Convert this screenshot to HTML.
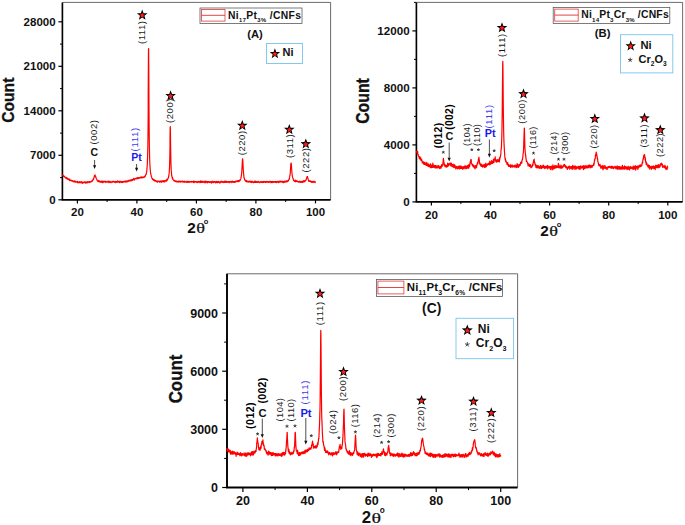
<!DOCTYPE html>
<html><head><meta charset="utf-8"><title>XRD</title>
<style>
html,body{margin:0;padding:0;background:#fff;}
svg{display:block;font-family:"Liberation Sans",sans-serif;}
</style></head><body>
<svg width="685" height="525" viewBox="0 0 685 525">
<rect width="685" height="525" fill="#fff"/>
<path d="M62.4 2.4 H330.6 V199.8" fill="none" stroke="#5a5a5a" stroke-width="0.9"/>
<path d="M62.4 2.4 V199.8 H330.6" fill="none" stroke="#000" stroke-width="1.65"/>
<line x1="77.4" y1="199.8" x2="77.4" y2="203.4" stroke="#000" stroke-width="1.2"/>
<text x="77.4" y="216.3" font-size="11.5" font-weight="bold" fill="#111" text-anchor="middle" >20</text>
<line x1="136.9" y1="199.8" x2="136.9" y2="203.4" stroke="#000" stroke-width="1.2"/>
<text x="136.9" y="216.3" font-size="11.5" font-weight="bold" fill="#111" text-anchor="middle" >40</text>
<line x1="196.4" y1="199.8" x2="196.4" y2="203.4" stroke="#000" stroke-width="1.2"/>
<text x="196.4" y="216.3" font-size="11.5" font-weight="bold" fill="#111" text-anchor="middle" >60</text>
<line x1="255.9" y1="199.8" x2="255.9" y2="203.4" stroke="#000" stroke-width="1.2"/>
<text x="255.9" y="216.3" font-size="11.5" font-weight="bold" fill="#111" text-anchor="middle" >80</text>
<line x1="315.5" y1="199.8" x2="315.5" y2="203.4" stroke="#000" stroke-width="1.2"/>
<text x="315.5" y="216.3" font-size="11.5" font-weight="bold" fill="#111" text-anchor="middle" >100</text>
<line x1="107.1" y1="199.8" x2="107.1" y2="202.0" stroke="#000" stroke-width="1.0"/>
<line x1="166.7" y1="199.8" x2="166.7" y2="202.0" stroke="#000" stroke-width="1.0"/>
<line x1="226.2" y1="199.8" x2="226.2" y2="202.0" stroke="#000" stroke-width="1.0"/>
<line x1="285.7" y1="199.8" x2="285.7" y2="202.0" stroke="#000" stroke-width="1.0"/>
<line x1="58.4" y1="199.8" x2="62.4" y2="199.8" stroke="#000" stroke-width="1.2"/>
<text x="55.6" y="203.9" font-size="11.5" font-weight="bold" fill="#111" text-anchor="end" >0</text>
<line x1="58.4" y1="155.3" x2="62.4" y2="155.3" stroke="#000" stroke-width="1.2"/>
<text x="55.6" y="159.4" font-size="11.5" font-weight="bold" fill="#111" text-anchor="end" >7000</text>
<line x1="58.4" y1="110.8" x2="62.4" y2="110.8" stroke="#000" stroke-width="1.2"/>
<text x="55.6" y="114.9" font-size="11.5" font-weight="bold" fill="#111" text-anchor="end" >14000</text>
<line x1="58.4" y1="66.3" x2="62.4" y2="66.3" stroke="#000" stroke-width="1.2"/>
<text x="55.6" y="70.4" font-size="11.5" font-weight="bold" fill="#111" text-anchor="end" >21000</text>
<line x1="58.4" y1="21.8" x2="62.4" y2="21.8" stroke="#000" stroke-width="1.2"/>
<text x="55.6" y="25.9" font-size="11.5" font-weight="bold" fill="#111" text-anchor="end" >28000</text>
<line x1="60.0" y1="177.6" x2="62.4" y2="177.6" stroke="#000" stroke-width="1.0"/>
<line x1="60.0" y1="133.1" x2="62.4" y2="133.1" stroke="#000" stroke-width="1.0"/>
<line x1="60.0" y1="88.6" x2="62.4" y2="88.6" stroke="#000" stroke-width="1.0"/>
<line x1="60.0" y1="44.1" x2="62.4" y2="44.1" stroke="#000" stroke-width="1.0"/>
<polyline fill="none" stroke="#ff0000" stroke-width="1.2" stroke-linejoin="round" points="62.5,174.3 62.6,174.9 62.7,175.3 62.8,175.4 62.9,175.3 63.0,175.7 63.1,175.2 63.2,175.5 63.3,175.6 63.4,175.6 63.5,175.6 63.6,176.4 63.7,176.4 63.8,176.1 63.9,176.0 64.0,176.5 64.1,176.6 64.2,176.7 64.3,176.6 64.3,176.6 64.4,176.9 64.5,176.5 64.6,176.4 64.7,176.6 64.8,176.8 64.9,177.2 65.0,177.4 65.1,177.6 65.2,177.5 65.3,177.4 65.4,177.7 65.5,177.8 65.6,178.0 65.7,178.1 65.8,178.1 65.9,178.0 66.0,178.2 66.1,177.9 66.2,177.4 66.3,177.7 66.4,178.3 66.5,178.6 66.6,178.5 66.7,177.9 66.8,178.3 66.9,178.7 67.0,178.3 67.1,177.9 67.2,178.3 67.3,178.5 67.4,178.7 67.5,179.0 67.6,179.3 67.7,179.2 67.8,179.0 67.9,178.8 68.0,178.7 68.0,178.8 68.1,178.9 68.2,179.1 68.3,179.3 68.4,179.0 68.5,179.2 68.6,179.5 68.7,179.4 68.8,179.4 68.9,179.1 69.0,178.8 69.1,179.0 69.2,180.1 69.3,180.4 69.4,180.1 69.5,179.8 69.6,179.6 69.7,180.0 69.8,180.6 69.9,180.3 70.0,179.8 70.1,179.9 70.2,179.9 70.3,180.2 70.4,180.3 70.5,180.2 70.6,180.2 70.7,180.2 70.8,180.4 70.9,180.6 71.0,180.4 71.1,180.3 71.2,180.1 71.3,180.1 71.4,180.5 71.5,180.8 71.6,180.9 71.6,180.6 71.7,180.7 71.8,180.9 71.9,180.9 72.0,181.0 72.1,180.8 72.2,180.8 72.3,180.6 72.4,180.7 72.5,180.9 72.6,181.3 72.7,181.0 72.8,180.9 72.9,181.4 73.0,181.3 73.1,181.3 73.2,181.6 73.3,181.2 73.4,181.1 73.5,181.4 73.6,181.4 73.7,181.7 73.8,181.7 73.9,181.8 74.0,181.2 74.1,181.2 74.2,181.5 74.3,181.6 74.4,181.0 74.5,181.0 74.6,181.8 74.7,181.2 74.8,180.9 74.9,181.5 75.0,181.9 75.1,181.6 75.2,181.7 75.3,182.0 75.3,182.1 75.4,181.6 75.5,181.5 75.6,181.8 75.7,181.8 75.8,182.0 75.9,181.7 76.0,181.8 76.1,181.9 76.2,181.9 76.3,181.6 76.4,181.6 76.5,181.7 76.6,181.9 76.7,181.9 76.8,181.8 76.9,181.8 77.0,181.8 77.1,182.3 77.2,182.7 77.3,181.8 77.4,181.3 77.5,181.8 77.6,182.1 77.7,182.2 77.8,182.2 77.9,182.3 78.0,182.6 78.1,182.6 78.2,182.5 78.3,182.3 78.4,182.2 78.5,182.1 78.6,182.1 78.7,182.0 78.8,181.9 78.9,181.8 78.9,182.7 79.0,182.6 79.1,181.8 79.2,181.5 79.3,182.1 79.4,182.4 79.5,182.3 79.6,182.0 79.7,182.2 79.8,182.2 79.9,182.5 80.0,182.8 80.1,182.4 80.2,182.1 80.3,182.0 80.4,182.4 80.5,182.6 80.6,182.3 80.7,182.3 80.8,182.3 80.9,182.3 81.0,182.1 81.1,182.0 81.2,181.7 81.3,181.8 81.4,182.3 81.5,182.8 81.6,182.4 81.7,182.2 81.8,182.1 81.9,182.1 82.0,182.4 82.1,182.3 82.2,182.4 82.3,182.1 82.4,182.9 82.5,183.3 82.5,183.3 82.6,183.1 82.7,182.7 82.8,182.0 82.9,182.5 83.0,182.8 83.1,182.4 83.2,182.7 83.3,182.8 83.4,182.3 83.5,182.3 83.6,182.4 83.7,182.1 83.8,182.1 83.9,181.9 84.0,182.0 84.1,181.9 84.2,182.4 84.3,182.6 84.4,181.9 84.5,182.4 84.6,182.7 84.7,182.7 84.8,182.6 84.9,182.4 85.0,182.3 85.1,182.0 85.2,181.8 85.3,182.4 85.4,182.9 85.5,183.0 85.6,182.9 85.7,182.9 85.8,182.4 85.9,182.5 86.0,182.5 86.1,182.6 86.2,182.9 86.2,182.7 86.3,182.2 86.4,182.2 86.5,182.2 86.6,182.0 86.7,182.6 86.8,182.6 86.9,182.7 87.0,183.0 87.1,182.0 87.2,182.1 87.3,182.4 87.4,181.7 87.5,181.8 87.6,182.1 87.7,182.4 87.8,182.4 87.9,182.6 88.0,182.2 88.1,182.2 88.2,182.1 88.3,181.8 88.4,181.9 88.5,182.0 88.6,182.1 88.7,182.2 88.8,181.8 88.9,181.5 89.0,181.6 89.1,181.8 89.2,182.3 89.3,182.6 89.4,182.4 89.5,181.8 89.6,181.8 89.7,181.7 89.8,182.1 89.8,182.1 89.9,181.8 90.0,181.6 90.1,181.7 90.2,181.8 90.3,181.8 90.4,181.9 90.5,182.1 90.6,181.9 90.7,181.8 90.8,181.7 90.9,181.6 91.0,181.8 91.1,181.7 91.2,181.6 91.3,181.3 91.4,181.3 91.5,181.5 91.6,181.1 91.7,180.8 91.8,181.6 91.9,181.7 92.0,181.5 92.1,181.0 92.2,180.5 92.3,180.8 92.4,180.9 92.5,180.7 92.6,180.6 92.7,180.2 92.8,180.0 92.9,179.9 93.0,179.8 93.1,179.0 93.2,179.2 93.3,179.3 93.4,179.4 93.5,179.5 93.5,179.3 93.6,179.0 93.7,178.7 93.8,178.3 93.9,178.0 94.0,177.4 94.1,177.0 94.2,176.9 94.3,176.3 94.4,176.1 94.5,175.6 94.6,175.3 94.7,175.2 94.8,175.5 94.9,175.2 95.0,174.8 95.1,175.4 95.2,176.2 95.3,176.5 95.4,176.9 95.5,176.9 95.6,176.5 95.7,176.3 95.8,176.9 95.9,177.2 96.0,177.6 96.1,177.9 96.2,178.2 96.3,178.4 96.4,178.7 96.5,179.1 96.6,178.9 96.7,179.0 96.8,179.4 96.9,179.5 97.0,180.0 97.1,180.2 97.1,180.1 97.2,180.3 97.3,180.6 97.4,180.8 97.5,180.7 97.6,180.6 97.7,181.2 97.8,180.9 97.9,180.8 98.0,180.7 98.1,181.0 98.2,181.7 98.3,181.2 98.4,180.9 98.5,181.2 98.6,181.2 98.7,181.1 98.8,181.1 98.9,180.7 99.0,180.7 99.1,180.7 99.2,181.6 99.3,181.9 99.4,181.3 99.5,181.1 99.6,181.5 99.7,182.0 99.8,181.7 99.9,181.4 100.0,181.5 100.1,181.6 100.2,181.7 100.3,181.9 100.4,182.0 100.5,181.9 100.6,181.3 100.7,181.5 100.8,181.7 100.8,181.8 100.9,181.7 101.0,182.1 101.1,181.6 101.2,181.4 101.3,181.2 101.4,181.9 101.5,181.8 101.6,181.5 101.7,181.4 101.8,181.7 101.9,182.0 102.0,182.5 102.1,182.2 102.2,181.6 102.3,181.4 102.4,181.5 102.5,181.0 102.6,181.0 102.7,181.9 102.8,182.7 102.9,182.7 103.0,182.1 103.1,181.5 103.2,181.8 103.3,182.4 103.4,181.9 103.5,181.4 103.6,181.8 103.7,181.9 103.8,181.3 103.9,181.6 104.0,181.9 104.1,181.8 104.2,181.8 104.3,181.8 104.4,181.4 104.4,181.3 104.5,181.5 104.6,181.7 104.7,181.5 104.8,181.7 104.9,181.6 105.0,181.4 105.1,181.3 105.2,181.2 105.3,181.7 105.4,182.4 105.5,182.3 105.6,181.6 105.7,181.8 105.8,181.9 105.9,182.0 106.0,181.7 106.1,181.7 106.2,181.5 106.3,181.8 106.4,181.5 106.5,181.6 106.6,181.9 106.7,181.7 106.8,182.1 106.9,182.2 107.0,181.8 107.1,182.1 107.2,182.2 107.3,182.2 107.4,182.1 107.5,181.6 107.6,181.6 107.7,181.9 107.8,181.9 107.9,181.6 108.0,181.2 108.1,181.5 108.1,181.9 108.2,181.7 108.3,181.9 108.4,181.8 108.5,181.4 108.6,181.9 108.7,182.3 108.8,182.7 108.9,182.5 109.0,182.0 109.1,182.0 109.2,181.9 109.3,182.3 109.4,182.2 109.5,181.6 109.6,181.3 109.7,181.4 109.8,181.3 109.9,181.2 110.0,181.5 110.1,182.1 110.2,182.0 110.3,181.8 110.4,181.9 110.5,182.0 110.6,182.4 110.7,182.3 110.8,182.1 110.9,182.7 111.0,182.5 111.1,182.2 111.2,182.4 111.3,182.2 111.4,182.2 111.5,182.1 111.6,182.0 111.7,181.9 111.7,182.1 111.8,182.0 111.9,182.0 112.0,181.6 112.1,181.3 112.2,181.7 112.3,182.0 112.4,182.2 112.5,181.9 112.6,182.2 112.7,182.2 112.8,181.8 112.9,181.7 113.0,181.4 113.1,181.4 113.2,181.9 113.3,181.8 113.4,181.3 113.5,181.4 113.6,181.5 113.7,181.5 113.8,181.9 113.9,181.6 114.0,181.3 114.1,181.4 114.2,182.0 114.3,182.0 114.4,181.9 114.5,182.0 114.6,182.0 114.7,181.8 114.8,182.1 114.9,182.5 115.0,182.0 115.1,182.1 115.2,182.4 115.3,182.4 115.4,182.0 115.4,182.7 115.5,182.7 115.6,182.1 115.7,181.4 115.8,181.5 115.9,182.1 116.0,182.3 116.1,182.3 116.2,181.9 116.3,182.3 116.4,182.0 116.5,181.6 116.6,181.7 116.7,181.6 116.8,182.0 116.9,181.8 117.0,181.6 117.1,181.7 117.2,181.4 117.3,181.8 117.4,181.9 117.5,180.8 117.6,181.3 117.7,182.0 117.8,182.3 117.9,182.1 118.0,182.0 118.1,181.7 118.2,181.5 118.3,181.3 118.4,181.6 118.5,181.7 118.6,181.7 118.7,181.9 118.8,181.9 118.9,181.5 119.0,181.6 119.0,182.1 119.1,182.3 119.2,181.9 119.3,181.5 119.4,181.6 119.5,181.4 119.6,181.9 119.7,182.2 119.8,182.7 119.9,182.4 120.0,182.0 120.1,181.6 120.2,181.3 120.3,181.5 120.4,181.3 120.5,181.4 120.6,181.5 120.7,181.7 120.8,181.6 120.9,182.0 121.0,181.9 121.1,182.1 121.2,182.3 121.3,182.4 121.4,182.1 121.5,181.8 121.6,182.0 121.7,182.1 121.8,181.5 121.9,181.4 122.0,181.4 122.1,181.5 122.2,182.1 122.3,182.6 122.4,182.1 122.5,181.6 122.6,181.9 122.6,181.7 122.7,181.8 122.8,181.9 122.9,182.1 123.0,181.6 123.1,181.5 123.2,181.4 123.3,181.5 123.4,181.5 123.5,181.6 123.6,181.7 123.7,182.2 123.8,182.1 123.9,181.6 124.0,181.6 124.1,181.8 124.2,181.7 124.3,181.6 124.4,181.7 124.5,181.6 124.6,181.9 124.7,181.7 124.8,181.2 124.9,181.3 125.0,181.7 125.1,181.5 125.2,181.7 125.3,181.6 125.4,182.1 125.5,182.1 125.6,181.8 125.7,181.4 125.8,181.0 125.9,180.9 126.0,180.7 126.1,180.9 126.2,181.4 126.3,181.4 126.3,181.1 126.4,181.3 126.5,181.5 126.6,181.8 126.7,181.8 126.8,182.2 126.9,181.8 127.0,181.5 127.1,181.2 127.2,181.3 127.3,181.2 127.4,180.9 127.5,181.3 127.6,181.4 127.7,181.7 127.8,181.3 127.9,180.9 128.0,180.9 128.1,181.2 128.2,181.0 128.3,180.9 128.4,180.9 128.5,180.9 128.6,180.7 128.7,180.9 128.8,181.3 128.9,181.1 129.0,180.0 129.1,180.1 129.2,181.0 129.3,180.7 129.4,180.4 129.5,180.4 129.6,180.7 129.7,181.0 129.8,180.8 129.9,180.8 129.9,180.6 130.0,180.6 130.1,180.5 130.2,180.1 130.3,180.1 130.4,180.7 130.5,180.8 130.6,180.5 130.7,180.1 130.8,180.0 130.9,179.9 131.0,180.2 131.1,180.4 131.2,180.5 131.3,179.9 131.4,180.2 131.5,180.6 131.6,180.6 131.7,180.8 131.8,180.2 131.9,179.9 132.0,179.7 132.1,179.4 132.2,179.7 132.3,179.6 132.4,179.6 132.5,180.0 132.6,180.3 132.7,179.7 132.8,179.7 132.9,179.8 133.0,179.9 133.1,179.6 133.2,179.4 133.3,179.5 133.4,179.4 133.5,179.0 133.6,178.9 133.6,178.6 133.7,178.3 133.8,179.1 133.9,179.5 134.0,179.5 134.1,179.2 134.2,179.6 134.3,180.1 134.4,179.7 134.5,179.0 134.6,178.8 134.7,179.4 134.8,179.3 134.9,179.1 135.0,179.0 135.1,178.7 135.2,178.7 135.3,178.7 135.4,178.7 135.5,178.3 135.6,178.3 135.7,178.3 135.8,178.5 135.9,178.5 136.0,178.8 136.1,178.9 136.2,178.8 136.3,178.5 136.4,178.3 136.5,178.0 136.6,178.6 136.7,178.6 136.8,177.8 136.9,178.1 137.0,178.7 137.1,178.2 137.2,178.3 137.2,178.8 137.3,178.5 137.4,178.1 137.5,177.8 137.6,177.7 137.7,177.8 137.8,177.7 137.9,178.0 138.0,178.3 138.1,178.3 138.2,178.1 138.3,178.4 138.4,178.0 138.5,178.2 138.6,178.0 138.7,177.6 138.8,177.6 138.9,178.4 139.0,178.2 139.1,177.9 139.2,177.8 139.3,177.8 139.4,178.2 139.5,177.8 139.6,177.5 139.7,177.5 139.8,177.5 139.9,177.8 140.0,177.5 140.1,177.7 140.2,177.5 140.3,177.6 140.4,177.3 140.5,177.5 140.6,178.0 140.7,177.8 140.8,177.7 140.9,177.8 140.9,177.6 141.0,177.1 141.1,177.1 141.2,177.1 141.3,177.7 141.4,177.9 141.5,177.7 141.6,177.4 141.7,176.8 141.8,177.1 141.9,177.2 142.0,177.5 142.1,177.6 142.2,177.5 142.3,177.3 142.4,177.2 142.5,177.5 142.6,177.8 142.7,177.8 142.8,177.5 142.9,177.2 143.0,177.2 143.1,177.4 143.2,177.5 143.3,177.3 143.4,177.1 143.5,177.2 143.6,177.3 143.7,177.2 143.8,177.0 143.9,177.2 144.0,177.1 144.1,176.9 144.2,176.6 144.3,176.4 144.4,176.5 144.5,176.8 144.5,177.2 144.6,176.5 144.7,176.0 144.8,176.7 144.9,176.9 145.0,176.5 145.1,175.9 145.2,175.9 145.3,176.1 145.4,175.8 145.5,175.3 145.6,174.9 145.7,174.4 145.8,174.5 145.9,174.6 146.0,174.4 146.1,174.4 146.2,174.2 146.3,173.5 146.4,173.0 146.5,172.9 146.6,172.3 146.7,171.4 146.8,170.5 146.9,169.6 147.0,168.4 147.1,167.2 147.2,165.8 147.3,164.5 147.4,161.8 147.5,159.2 147.6,156.5 147.7,152.8 147.8,148.2 147.9,142.5 148.0,134.7 148.1,124.7 148.2,112.1 148.2,96.6 148.3,79.0 148.4,61.8 148.5,50.0 148.6,48.6 148.7,58.2 148.8,74.4 148.9,92.8 149.0,109.4 149.1,122.5 149.2,133.3 149.3,142.1 149.4,147.9 149.5,152.9 149.6,156.7 149.7,160.2 149.8,162.9 149.9,164.8 150.0,166.9 150.1,168.2 150.2,169.2 150.3,170.1 150.4,171.1 150.5,172.2 150.6,173.0 150.7,173.2 150.8,174.0 150.9,174.3 151.0,175.0 151.1,175.2 151.2,175.7 151.3,176.5 151.4,176.6 151.5,176.6 151.6,177.0 151.7,177.4 151.8,177.7 151.8,178.1 151.9,178.4 152.0,178.2 152.1,178.4 152.2,178.2 152.3,178.5 152.4,179.1 152.5,179.2 152.6,179.3 152.7,179.5 152.8,179.3 152.9,179.4 153.0,179.0 153.1,179.3 153.2,179.9 153.3,179.9 153.4,180.1 153.5,180.3 153.6,179.8 153.7,179.6 153.8,179.8 153.9,180.1 154.0,180.0 154.1,180.2 154.2,179.9 154.3,179.7 154.4,180.4 154.5,181.0 154.6,180.7 154.7,180.3 154.8,180.3 154.9,180.9 155.0,180.9 155.1,180.6 155.2,180.5 155.3,180.6 155.4,181.1 155.4,181.0 155.5,180.6 155.6,180.6 155.7,180.6 155.8,180.6 155.9,180.8 156.0,180.9 156.1,181.2 156.2,181.6 156.3,181.6 156.4,181.2 156.5,181.2 156.6,181.3 156.7,181.2 156.8,181.4 156.9,181.3 157.0,181.3 157.1,181.7 157.2,181.9 157.3,181.0 157.4,181.3 157.5,182.1 157.6,181.7 157.7,181.2 157.8,181.3 157.9,181.3 158.0,181.5 158.1,181.4 158.2,181.4 158.3,181.4 158.4,181.4 158.5,181.2 158.6,181.1 158.7,181.5 158.8,181.6 158.9,181.4 159.0,181.4 159.1,181.2 159.1,181.0 159.2,181.0 159.3,181.6 159.4,182.1 159.5,181.7 159.6,181.4 159.7,181.5 159.8,181.8 159.9,182.2 160.0,181.6 160.1,181.7 160.2,182.0 160.3,182.0 160.4,181.8 160.5,181.3 160.6,181.1 160.7,180.9 160.8,181.3 160.9,182.0 161.0,181.9 161.1,181.1 161.2,180.9 161.3,181.3 161.4,181.5 161.5,182.1 161.6,182.3 161.7,182.1 161.8,181.7 161.9,181.7 162.0,181.6 162.1,181.5 162.2,181.1 162.3,180.9 162.4,181.1 162.5,180.9 162.6,181.5 162.7,181.6 162.7,181.4 162.8,181.3 162.9,181.1 163.0,181.3 163.1,181.0 163.2,180.9 163.3,180.6 163.4,181.2 163.5,181.4 163.6,181.5 163.7,181.9 163.8,181.3 163.9,181.1 164.0,181.4 164.1,181.9 164.2,181.8 164.3,181.1 164.4,180.6 164.5,180.7 164.6,181.4 164.7,181.6 164.8,181.5 164.9,181.8 165.0,181.4 165.1,180.7 165.2,180.4 165.3,180.6 165.4,180.4 165.5,180.6 165.6,180.8 165.7,180.9 165.8,180.8 165.9,180.9 166.0,180.9 166.1,180.9 166.2,180.7 166.3,180.8 166.4,181.1 166.4,180.8 166.5,181.0 166.6,181.1 166.7,180.2 166.8,179.5 166.9,179.1 167.0,179.5 167.1,180.0 167.2,179.5 167.3,179.5 167.4,180.1 167.5,179.4 167.6,179.1 167.7,179.1 167.8,179.0 167.9,178.7 168.0,178.2 168.1,178.4 168.2,178.3 168.3,177.9 168.4,177.7 168.5,177.6 168.6,176.6 168.7,176.1 168.8,175.6 168.9,175.1 169.0,174.5 169.1,173.7 169.2,172.5 169.3,171.0 169.4,169.2 169.5,167.4 169.6,164.9 169.7,161.5 169.8,158.1 169.9,153.1 170.0,146.2 170.0,139.0 170.1,132.2 170.2,127.2 170.3,126.6 170.4,130.5 170.5,137.6 170.6,144.7 170.7,151.5 170.8,157.1 170.9,161.3 171.0,164.8 171.1,167.9 171.2,169.5 171.3,170.9 171.4,171.9 171.5,173.3 171.6,174.3 171.7,175.6 171.8,175.7 171.9,176.1 172.0,176.8 172.1,177.3 172.2,177.6 172.3,177.8 172.4,178.4 172.5,179.0 172.6,178.7 172.7,178.2 172.8,178.8 172.9,179.2 173.0,179.5 173.1,179.5 173.2,179.6 173.3,179.8 173.4,179.8 173.5,180.2 173.6,180.2 173.7,180.1 173.7,180.5 173.8,180.7 173.9,180.5 174.0,180.8 174.1,180.9 174.2,180.9 174.3,180.9 174.4,180.9 174.5,180.9 174.6,180.5 174.7,180.3 174.8,180.8 174.9,180.9 175.0,181.0 175.1,180.9 175.2,180.7 175.3,181.1 175.4,181.5 175.5,181.5 175.6,181.5 175.7,181.2 175.8,181.1 175.9,181.7 176.0,181.8 176.1,181.9 176.2,181.8 176.3,181.1 176.4,181.0 176.5,181.0 176.6,181.5 176.7,181.2 176.8,181.5 176.9,181.7 177.0,181.9 177.1,182.0 177.2,182.0 177.3,181.7 177.3,181.9 177.4,181.7 177.5,181.5 177.6,181.3 177.7,181.4 177.8,181.4 177.9,181.4 178.0,181.5 178.1,181.6 178.2,181.9 178.3,181.7 178.4,181.1 178.5,181.5 178.6,181.7 178.7,181.3 178.8,181.6 178.9,182.0 179.0,182.1 179.1,181.7 179.2,182.0 179.3,181.9 179.4,181.5 179.5,181.6 179.6,181.7 179.7,181.7 179.8,181.1 179.9,181.0 180.0,181.6 180.1,181.4 180.2,181.0 180.3,181.3 180.4,181.9 180.5,182.0 180.6,182.1 180.7,182.2 180.8,182.0 180.9,181.8 181.0,181.8 181.0,181.5 181.1,181.7 181.2,181.8 181.3,181.5 181.4,181.6 181.5,181.6 181.6,181.4 181.7,181.5 181.8,181.7 181.9,181.5 182.0,181.3 182.1,180.8 182.2,181.0 182.3,181.2 182.4,181.3 182.5,181.5 182.6,181.4 182.7,181.8 182.8,182.1 182.9,182.0 183.0,181.9 183.1,182.2 183.2,182.0 183.3,182.0 183.4,181.8 183.5,181.8 183.6,181.3 183.7,181.5 183.8,182.0 183.9,181.5 184.0,181.8 184.1,182.2 184.2,182.2 184.3,181.6 184.4,181.4 184.5,182.0 184.6,182.3 184.6,182.1 184.7,181.3 184.8,181.2 184.9,181.7 185.0,181.7 185.1,181.8 185.2,181.8 185.3,181.5 185.4,181.6 185.5,181.8 185.6,181.8 185.7,181.7 185.8,181.9 185.9,181.9 186.0,181.9 186.1,182.2 186.2,182.1 186.3,182.0 186.4,182.0 186.5,182.3 186.6,182.2 186.7,181.4 186.8,181.3 186.9,181.3 187.0,181.2 187.1,181.6 187.2,181.8 187.3,182.0 187.4,182.5 187.5,182.3 187.6,181.8 187.7,181.9 187.8,182.2 187.9,181.7 188.0,181.5 188.1,181.6 188.2,181.9 188.3,182.1 188.3,181.9 188.4,181.8 188.5,181.9 188.6,181.7 188.7,181.7 188.8,182.0 188.9,182.4 189.0,181.6 189.1,181.3 189.2,182.0 189.3,182.3 189.4,181.9 189.5,182.1 189.6,182.1 189.7,181.8 189.8,182.1 189.9,182.0 190.0,182.1 190.1,181.5 190.2,181.6 190.3,181.9 190.4,181.8 190.5,181.6 190.6,181.5 190.7,181.5 190.8,181.7 190.9,181.9 191.0,181.9 191.1,182.1 191.2,181.7 191.3,181.4 191.4,181.5 191.5,181.9 191.6,181.8 191.7,181.6 191.8,181.8 191.9,182.0 191.9,181.9 192.0,181.8 192.1,181.7 192.2,182.0 192.3,181.9 192.4,181.7 192.5,181.7 192.6,181.9 192.7,181.9 192.8,181.9 192.9,181.9 193.0,182.0 193.1,181.7 193.2,181.2 193.3,182.0 193.4,182.5 193.5,182.4 193.6,182.2 193.7,181.9 193.8,181.3 193.9,181.2 194.0,181.9 194.1,182.6 194.2,182.2 194.3,182.3 194.4,182.3 194.5,182.3 194.6,182.0 194.7,182.0 194.8,181.7 194.9,181.7 195.0,182.0 195.1,181.8 195.2,181.7 195.3,181.9 195.4,181.7 195.5,181.8 195.5,181.8 195.6,181.5 195.7,181.4 195.8,181.6 195.9,181.8 196.0,181.9 196.1,182.2 196.2,181.7 196.3,182.1 196.4,181.9 196.5,182.0 196.6,181.9 196.7,181.9 196.8,181.9 196.9,182.4 197.0,182.6 197.1,182.1 197.2,182.2 197.3,182.3 197.4,182.0 197.5,181.5 197.6,181.9 197.7,182.0 197.8,182.1 197.9,181.7 198.0,182.2 198.1,182.5 198.2,181.5 198.3,181.9 198.4,181.6 198.5,181.5 198.6,181.7 198.7,181.9 198.8,181.8 198.9,181.6 199.0,181.9 199.1,181.8 199.2,181.6 199.2,181.9 199.3,181.9 199.4,181.5 199.5,181.7 199.6,182.0 199.7,182.3 199.8,182.2 199.9,181.7 200.0,181.8 200.1,182.6 200.2,182.3 200.3,181.5 200.4,180.9 200.5,180.9 200.6,181.3 200.7,181.5 200.8,181.9 200.9,181.9 201.0,182.3 201.1,182.2 201.2,181.7 201.3,181.2 201.4,181.5 201.5,181.8 201.6,182.1 201.7,182.3 201.8,181.9 201.9,182.0 202.0,182.0 202.1,182.2 202.2,182.2 202.3,182.4 202.4,181.8 202.5,181.4 202.6,181.3 202.7,181.2 202.8,181.6 202.8,181.7 202.9,181.8 203.0,181.9 203.1,181.3 203.2,181.5 203.3,182.0 203.4,182.2 203.5,181.8 203.6,181.6 203.7,181.8 203.8,181.9 203.9,182.0 204.0,181.8 204.1,181.4 204.2,181.5 204.3,182.2 204.4,182.2 204.5,182.4 204.6,182.4 204.7,182.0 204.8,182.5 204.9,182.9 205.0,182.0 205.1,181.3 205.2,181.2 205.3,181.7 205.4,181.8 205.5,182.7 205.6,182.5 205.7,181.9 205.8,181.6 205.9,181.4 206.0,181.5 206.1,181.7 206.2,181.4 206.3,181.4 206.4,181.4 206.5,182.0 206.5,182.0 206.6,182.0 206.7,181.8 206.8,182.0 206.9,182.2 207.0,182.4 207.1,181.9 207.2,181.5 207.3,181.9 207.4,182.9 207.5,182.6 207.6,181.5 207.7,181.8 207.8,181.9 207.9,181.6 208.0,181.8 208.1,182.2 208.2,181.9 208.3,181.6 208.4,182.0 208.5,181.7 208.6,181.9 208.7,181.9 208.8,181.5 208.9,181.9 209.0,181.8 209.1,182.1 209.2,182.5 209.3,182.0 209.4,181.6 209.5,181.8 209.6,181.8 209.7,181.8 209.8,182.0 209.9,182.1 210.0,182.2 210.1,182.6 210.1,182.5 210.2,182.5 210.3,182.0 210.4,181.9 210.5,182.1 210.6,181.8 210.7,181.7 210.8,181.9 210.9,182.0 211.0,181.7 211.1,181.7 211.2,182.1 211.3,182.2 211.4,181.9 211.5,182.8 211.6,183.2 211.7,182.8 211.8,182.1 211.9,181.8 212.0,181.8 212.1,181.7 212.2,181.3 212.3,181.2 212.4,181.6 212.5,182.1 212.6,182.1 212.7,182.2 212.8,182.3 212.9,182.3 213.0,182.0 213.1,181.8 213.2,182.0 213.3,182.5 213.4,182.6 213.5,182.4 213.6,182.2 213.7,181.8 213.8,182.0 213.8,182.1 213.9,181.9 214.0,181.5 214.1,181.3 214.2,181.7 214.3,181.8 214.4,181.5 214.5,181.7 214.6,181.9 214.7,181.7 214.8,181.9 214.9,182.3 215.0,181.9 215.1,182.0 215.2,182.7 215.3,182.8 215.4,182.1 215.5,181.7 215.6,181.8 215.7,182.3 215.8,182.1 215.9,182.0 216.0,182.3 216.1,182.1 216.2,181.8 216.3,181.9 216.4,182.6 216.5,182.0 216.6,181.4 216.7,182.0 216.8,182.0 216.9,181.8 217.0,182.0 217.1,181.6 217.2,181.8 217.3,182.4 217.4,182.3 217.4,182.3 217.5,182.0 217.6,182.6 217.7,182.8 217.8,182.6 217.9,182.2 218.0,181.6 218.1,181.8 218.2,181.8 218.3,181.7 218.4,182.1 218.5,182.3 218.6,182.2 218.7,181.6 218.8,181.3 218.9,181.8 219.0,182.2 219.1,182.3 219.2,182.3 219.3,182.0 219.4,182.2 219.5,182.3 219.6,182.5 219.7,182.9 219.8,183.0 219.9,182.5 220.0,182.0 220.1,182.1 220.2,182.2 220.3,182.4 220.4,182.5 220.5,182.4 220.6,181.8 220.7,181.3 220.8,181.9 220.9,182.2 221.0,181.8 221.1,182.1 221.1,181.9 221.2,182.0 221.3,181.6 221.4,181.0 221.5,181.9 221.6,182.2 221.7,181.9 221.8,182.0 221.9,182.1 222.0,182.1 222.1,181.7 222.2,181.7 222.3,182.2 222.4,182.2 222.5,181.7 222.6,182.1 222.7,181.8 222.8,181.9 222.9,182.2 223.0,182.0 223.1,182.3 223.2,182.5 223.3,182.4 223.4,181.9 223.5,181.9 223.6,181.7 223.7,182.0 223.8,181.7 223.9,181.5 224.0,181.9 224.1,182.3 224.2,182.0 224.3,181.5 224.4,181.6 224.5,182.2 224.6,182.4 224.7,181.7 224.7,181.2 224.8,181.2 224.9,181.7 225.0,182.0 225.1,182.3 225.2,182.4 225.3,182.3 225.4,181.5 225.5,181.5 225.6,181.2 225.7,181.9 225.8,182.2 225.9,181.6 226.0,182.0 226.1,182.0 226.2,181.3 226.3,181.5 226.4,182.4 226.5,182.3 226.6,182.2 226.7,181.7 226.8,181.4 226.9,181.7 227.0,181.6 227.1,181.8 227.2,181.5 227.3,182.0 227.4,182.1 227.5,182.0 227.6,182.2 227.7,181.7 227.8,182.0 227.9,182.0 228.0,182.2 228.1,182.0 228.2,182.0 228.3,182.0 228.3,181.9 228.4,182.0 228.5,181.6 228.6,182.0 228.7,182.5 228.8,181.6 228.9,181.4 229.0,181.4 229.1,182.0 229.2,182.7 229.3,182.4 229.4,182.3 229.5,182.1 229.6,182.0 229.7,182.1 229.8,182.4 229.9,182.1 230.0,182.0 230.1,181.9 230.2,182.4 230.3,182.0 230.4,181.6 230.5,182.0 230.6,181.7 230.7,181.4 230.8,181.6 230.9,181.5 231.0,181.3 231.1,181.3 231.2,181.8 231.3,181.9 231.4,181.7 231.5,182.0 231.6,182.0 231.7,182.3 231.8,182.6 231.9,181.8 232.0,181.4 232.0,181.8 232.1,181.9 232.2,182.1 232.3,182.1 232.4,181.8 232.5,181.3 232.6,181.0 232.7,181.5 232.8,182.2 232.9,182.2 233.0,181.6 233.1,181.7 233.2,182.1 233.3,182.3 233.4,182.1 233.5,181.5 233.6,181.9 233.7,182.2 233.8,181.7 233.9,181.7 234.0,181.8 234.1,181.7 234.2,181.9 234.3,181.7 234.4,182.2 234.5,182.4 234.6,182.3 234.7,182.1 234.8,182.1 234.9,182.0 235.0,181.7 235.1,181.6 235.2,181.6 235.3,181.5 235.4,181.3 235.5,181.8 235.6,182.1 235.6,181.4 235.7,181.0 235.8,181.4 235.9,181.5 236.0,181.8 236.1,181.6 236.2,181.4 236.3,181.5 236.4,181.6 236.5,181.2 236.6,181.3 236.7,181.3 236.8,181.3 236.9,181.2 237.0,181.2 237.1,181.4 237.2,181.1 237.3,180.6 237.4,180.6 237.5,180.9 237.6,181.0 237.7,181.5 237.8,181.1 237.9,181.4 238.0,181.9 238.1,181.4 238.2,181.1 238.3,181.2 238.4,180.6 238.5,180.8 238.6,181.4 238.7,181.0 238.8,181.1 238.9,181.3 239.0,181.3 239.1,181.3 239.2,181.4 239.3,181.1 239.3,180.5 239.4,180.1 239.5,180.2 239.6,180.6 239.7,180.7 239.8,180.6 239.9,180.3 240.0,180.7 240.1,180.7 240.2,180.2 240.3,179.8 240.4,179.6 240.5,179.4 240.6,179.1 240.7,178.9 240.8,178.9 240.9,178.4 241.0,177.7 241.1,177.1 241.2,176.6 241.3,176.3 241.4,175.3 241.5,174.3 241.6,173.7 241.7,172.7 241.8,171.3 241.9,169.8 242.0,168.0 242.1,166.0 242.2,164.2 242.3,162.3 242.4,160.8 242.5,159.8 242.6,158.9 242.7,159.0 242.8,160.1 242.9,161.5 242.9,163.2 243.0,164.9 243.1,166.1 243.2,168.0 243.3,170.1 243.4,171.4 243.5,172.6 243.6,173.8 243.7,174.3 243.8,175.3 243.9,176.5 244.0,177.6 244.1,177.9 244.2,178.0 244.3,178.4 244.4,178.8 244.5,179.1 244.6,179.2 244.7,179.7 244.8,180.2 244.9,180.1 245.0,180.3 245.1,180.5 245.2,180.0 245.3,180.2 245.4,180.5 245.5,180.3 245.6,180.5 245.7,180.6 245.8,181.3 245.9,181.3 246.0,180.7 246.1,180.4 246.2,180.8 246.3,181.1 246.4,181.3 246.5,181.3 246.6,181.4 246.6,181.3 246.7,181.3 246.8,181.8 246.9,181.6 247.0,181.6 247.1,181.5 247.2,181.1 247.3,181.1 247.4,181.3 247.5,181.9 247.6,181.8 247.7,181.7 247.8,181.7 247.9,181.4 248.0,181.4 248.1,181.9 248.2,182.1 248.3,182.0 248.4,181.4 248.5,181.7 248.6,181.8 248.7,181.9 248.8,181.9 248.9,181.6 249.0,181.4 249.1,181.4 249.2,181.7 249.3,181.9 249.4,181.8 249.5,181.2 249.6,181.3 249.7,181.6 249.8,181.6 249.9,181.6 250.0,181.2 250.1,181.8 250.2,182.0 250.2,181.7 250.3,181.3 250.4,181.4 250.5,181.4 250.6,181.8 250.7,182.1 250.8,181.8 250.9,182.0 251.0,182.3 251.1,182.0 251.2,181.5 251.3,181.4 251.4,182.3 251.5,182.5 251.6,181.7 251.7,181.7 251.8,181.9 251.9,181.7 252.0,181.4 252.1,181.2 252.2,181.5 252.3,181.5 252.4,181.9 252.5,182.0 252.6,181.9 252.7,182.3 252.8,182.3 252.9,181.9 253.0,182.3 253.1,182.1 253.2,182.0 253.3,182.2 253.4,182.5 253.5,182.7 253.6,182.4 253.7,182.3 253.8,182.1 253.9,182.0 253.9,182.2 254.0,182.3 254.1,182.0 254.2,182.2 254.3,182.3 254.4,182.1 254.5,181.6 254.6,181.0 254.7,181.3 254.8,182.2 254.9,182.4 255.0,182.0 255.1,181.7 255.2,181.7 255.3,181.1 255.4,181.1 255.5,181.3 255.6,182.0 255.7,182.3 255.8,182.3 255.9,182.2 256.0,182.4 256.1,182.3 256.2,182.0 256.3,181.7 256.4,182.1 256.5,182.4 256.6,182.2 256.7,181.8 256.8,181.8 256.9,182.1 257.0,181.7 257.1,181.4 257.2,181.6 257.3,181.8 257.4,182.1 257.5,182.4 257.5,182.5 257.6,182.0 257.7,182.0 257.8,181.9 257.9,181.8 258.0,182.0 258.1,181.7 258.2,181.6 258.3,181.4 258.4,181.7 258.5,181.8 258.6,181.8 258.7,181.7 258.8,182.5 258.9,182.3 259.0,182.2 259.1,182.5 259.2,182.6 259.3,182.7 259.4,182.3 259.5,182.3 259.6,182.0 259.7,182.1 259.8,182.4 259.9,182.6 260.0,182.3 260.1,181.9 260.2,181.9 260.3,181.8 260.4,181.9 260.5,181.6 260.6,181.9 260.7,182.1 260.8,181.5 260.9,181.4 261.0,181.9 261.1,182.0 261.2,181.8 261.2,182.0 261.3,181.9 261.4,182.3 261.5,182.1 261.6,181.8 261.7,181.8 261.8,182.3 261.9,182.1 262.0,182.0 262.1,182.0 262.2,182.3 262.3,182.5 262.4,182.2 262.5,181.9 262.6,181.5 262.7,181.8 262.8,181.9 262.9,181.9 263.0,182.3 263.1,181.8 263.2,181.5 263.3,181.6 263.4,182.1 263.5,182.5 263.6,182.3 263.7,181.9 263.8,181.6 263.9,181.3 264.0,181.3 264.1,181.5 264.2,181.8 264.3,181.9 264.4,181.9 264.5,181.6 264.6,181.6 264.7,182.0 264.8,182.2 264.8,181.9 264.9,182.2 265.0,181.6 265.1,181.7 265.2,182.3 265.3,182.3 265.4,182.3 265.5,182.1 265.6,181.8 265.7,182.1 265.8,182.3 265.9,182.0 266.0,181.8 266.1,182.0 266.2,182.3 266.3,182.1 266.4,181.9 266.5,181.7 266.6,181.3 266.7,181.7 266.8,181.9 266.9,181.9 267.0,182.2 267.1,181.8 267.2,181.5 267.3,182.0 267.4,181.9 267.5,181.9 267.6,182.2 267.7,181.7 267.8,182.1 267.9,182.1 268.0,181.9 268.1,181.9 268.2,181.7 268.3,181.8 268.4,181.7 268.4,181.7 268.5,181.7 268.6,182.4 268.7,182.1 268.8,182.1 268.9,182.4 269.0,182.4 269.1,182.1 269.2,181.9 269.3,182.2 269.4,182.1 269.5,182.0 269.6,182.1 269.7,181.5 269.8,181.2 269.9,181.8 270.0,181.8 270.1,181.9 270.2,181.8 270.3,181.7 270.4,181.3 270.5,181.7 270.6,181.7 270.7,181.8 270.8,182.4 270.9,182.7 271.0,181.9 271.1,181.7 271.2,182.1 271.3,182.1 271.4,181.6 271.5,181.5 271.6,181.5 271.7,181.8 271.8,182.3 271.9,182.6 272.0,182.7 272.1,182.0 272.1,181.3 272.2,181.6 272.3,182.1 272.4,182.5 272.5,182.3 272.6,182.0 272.7,181.9 272.8,181.7 272.9,181.8 273.0,181.8 273.1,181.9 273.2,181.9 273.3,181.7 273.4,182.1 273.5,182.2 273.6,182.3 273.7,181.9 273.8,181.5 273.9,181.5 274.0,181.5 274.1,181.5 274.2,181.5 274.3,181.6 274.4,181.8 274.5,182.1 274.6,181.8 274.7,181.7 274.8,182.1 274.9,181.8 275.0,181.6 275.1,182.1 275.2,182.4 275.3,181.9 275.4,181.5 275.5,182.0 275.6,182.1 275.7,182.2 275.7,182.1 275.8,181.7 275.9,181.5 276.0,182.1 276.1,182.3 276.2,182.4 276.3,182.5 276.4,182.6 276.5,182.3 276.6,182.0 276.7,181.8 276.8,181.6 276.9,182.1 277.0,182.3 277.1,182.2 277.2,181.9 277.3,181.9 277.4,181.8 277.5,182.0 277.6,181.6 277.7,181.5 277.8,181.9 277.9,182.1 278.0,182.0 278.1,181.9 278.2,181.4 278.3,181.6 278.4,181.8 278.5,182.4 278.6,182.5 278.7,181.8 278.8,181.7 278.9,182.1 279.0,182.2 279.1,182.1 279.2,181.8 279.3,181.7 279.4,182.2 279.4,182.0 279.5,182.2 279.6,182.1 279.7,182.1 279.8,182.0 279.9,180.9 280.0,180.8 280.1,181.3 280.2,181.7 280.3,181.9 280.4,181.2 280.5,181.6 280.6,181.8 280.7,181.5 280.8,181.7 280.9,182.1 281.0,182.0 281.1,182.0 281.2,181.8 281.3,181.6 281.4,181.5 281.5,181.4 281.6,181.6 281.7,181.4 281.8,181.3 281.9,181.9 282.0,181.8 282.1,182.2 282.2,182.2 282.3,181.4 282.4,181.2 282.5,181.6 282.6,181.7 282.7,181.5 282.8,182.0 282.9,181.9 283.0,181.5 283.0,181.5 283.1,182.4 283.2,182.8 283.3,182.0 283.4,181.6 283.5,181.8 283.6,182.0 283.7,182.0 283.8,182.2 283.9,181.7 284.0,181.5 284.1,182.0 284.2,182.4 284.3,182.0 284.4,181.8 284.5,181.6 284.6,181.3 284.7,181.3 284.8,181.0 284.9,181.4 285.0,181.8 285.1,181.4 285.2,181.6 285.3,181.7 285.4,181.5 285.5,181.7 285.6,182.1 285.7,181.8 285.8,181.2 285.9,181.3 286.0,181.2 286.1,180.9 286.2,180.9 286.3,181.5 286.4,181.8 286.5,181.8 286.6,181.7 286.7,181.7 286.7,181.4 286.8,181.2 286.9,181.2 287.0,181.6 287.1,181.4 287.2,181.0 287.3,181.1 287.4,181.7 287.5,181.4 287.6,181.3 287.7,181.5 287.8,180.8 287.9,180.5 288.0,181.3 288.1,181.2 288.2,180.2 288.3,180.1 288.4,180.7 288.5,180.5 288.6,180.0 288.7,180.0 288.8,179.8 288.9,179.1 289.0,179.3 289.1,179.6 289.2,179.2 289.3,178.9 289.4,178.1 289.5,177.5 289.6,177.2 289.7,176.5 289.8,175.8 289.9,175.5 290.0,175.4 290.1,174.8 290.2,173.7 290.3,172.9 290.3,171.9 290.4,170.5 290.5,169.3 290.6,167.6 290.7,165.7 290.8,164.5 290.9,163.5 291.0,163.0 291.1,163.2 291.2,163.2 291.3,163.9 291.4,165.0 291.5,166.6 291.6,168.3 291.7,169.1 291.8,170.8 291.9,172.4 292.0,173.3 292.1,174.4 292.2,174.9 292.3,175.6 292.4,176.5 292.5,176.7 292.6,177.2 292.7,177.6 292.8,177.9 292.9,178.2 293.0,178.3 293.1,178.6 293.2,179.1 293.3,179.6 293.4,179.7 293.5,180.1 293.6,180.5 293.7,180.4 293.8,180.4 293.9,180.1 294.0,180.3 294.0,180.4 294.1,180.4 294.2,180.8 294.3,180.8 294.4,180.6 294.5,181.3 294.6,181.4 294.7,181.0 294.8,180.8 294.9,181.0 295.0,181.5 295.1,181.4 295.2,180.7 295.3,181.0 295.4,181.5 295.5,181.1 295.6,180.1 295.7,180.7 295.8,181.8 295.9,181.6 296.0,181.3 296.1,181.3 296.2,180.9 296.3,180.8 296.4,181.3 296.5,181.4 296.6,181.4 296.7,181.1 296.8,180.9 296.9,181.2 297.0,181.7 297.1,181.5 297.2,181.5 297.3,181.1 297.4,181.2 297.5,181.2 297.6,181.5 297.6,181.6 297.7,181.5 297.8,181.4 297.9,181.3 298.0,181.8 298.1,181.6 298.2,181.7 298.3,181.7 298.4,182.0 298.5,181.5 298.6,181.8 298.7,182.0 298.8,181.6 298.9,181.7 299.0,181.5 299.1,181.4 299.2,182.0 299.3,182.1 299.4,181.7 299.5,181.6 299.6,182.0 299.7,182.0 299.8,181.5 299.9,181.2 300.0,181.2 300.1,182.0 300.2,182.5 300.3,181.8 300.4,181.6 300.5,182.1 300.6,181.8 300.7,181.6 300.8,181.7 300.9,181.8 301.0,181.7 301.1,181.7 301.2,182.1 301.2,181.7 301.3,181.7 301.4,181.6 301.5,182.0 301.6,182.2 301.7,181.4 301.8,181.3 301.9,182.2 302.0,182.3 302.1,181.9 302.2,181.9 302.3,181.7 302.4,181.9 302.5,181.9 302.6,181.9 302.7,182.4 302.8,181.8 302.9,181.0 303.0,181.4 303.1,181.8 303.2,181.2 303.3,180.7 303.4,181.1 303.5,181.7 303.6,181.9 303.7,181.9 303.8,181.9 303.9,181.7 304.0,181.9 304.1,181.8 304.2,181.5 304.3,181.6 304.4,181.3 304.5,180.7 304.6,180.9 304.7,180.8 304.8,180.9 304.9,181.1 304.9,181.6 305.0,181.4 305.1,181.2 305.2,181.1 305.3,181.0 305.4,180.8 305.5,180.6 305.6,180.4 305.7,180.3 305.8,179.9 305.9,180.0 306.0,180.2 306.1,180.1 306.2,179.8 306.3,179.1 306.4,178.5 306.5,178.5 306.6,177.8 306.7,177.6 306.8,177.6 306.9,177.2 307.0,176.7 307.1,176.9 307.2,176.6 307.3,176.5 307.4,176.5 307.5,176.6 307.6,177.2 307.7,177.6 307.8,178.2 307.9,178.3 308.0,178.5 308.1,179.0 308.2,179.2 308.3,179.5 308.4,179.9 308.5,180.1 308.5,180.5 308.6,181.2 308.7,181.1 308.8,180.9 308.9,181.2 309.0,180.9 309.1,181.2 309.2,181.1 309.3,181.0 309.4,181.2 309.5,181.1 309.6,181.5 309.7,181.2 309.8,181.2 309.9,181.3 310.0,181.1 310.1,181.3 310.2,181.7 310.3,181.1 310.4,181.1 310.5,181.4 310.6,181.4 310.7,181.0 310.8,180.9 310.9,181.4 311.0,181.9 311.1,181.7 311.2,181.5 311.3,182.0 311.4,182.2 311.5,181.8 311.6,181.7 311.7,181.5 311.8,181.6 311.9,182.3 312.0,182.0 312.1,181.8 312.2,181.8 312.2,181.6 312.3,181.4 312.4,181.5 312.5,181.8 312.6,181.8 312.7,181.8 312.8,181.7 312.9,181.6 313.0,182.4 313.1,182.3 313.2,181.4 313.3,181.4 313.4,181.5 313.5,181.7 313.6,182.2 313.7,181.8 313.8,182.2 313.9,182.2 314.0,181.8 314.1,182.1 314.2,181.7 314.3,181.5 314.4,182.0 314.5,182.1 314.6,181.7 314.7,181.5 314.8,181.9 314.9,182.2 315.0,181.5 315.1,181.8 315.2,182.6 315.3,182.5 315.4,182.4 315.5,182.3"/>
<text transform="translate(145.0,44.0) rotate(-90)" font-size="9.5" font-weight="normal" fill="#1a1a1a" letter-spacing="0.55">(111)</text>
<polygon points="142.20,9.50 143.58,13.20 147.53,13.37 144.44,15.83 145.49,19.63 142.20,17.45 138.91,19.63 139.96,15.83 136.87,13.37 140.82,13.20" fill="#000"/><polygon points="142.20,12.60 143.02,14.27 144.86,14.53 143.53,15.83 143.85,17.67 142.20,16.80 140.55,17.67 140.87,15.83 139.54,14.53 141.38,14.27" fill="#ff1a1a"/>
<text transform="translate(173.1,123.0) rotate(-90)" font-size="9.5" font-weight="normal" fill="#1a1a1a" letter-spacing="0.55">(200)</text>
<polygon points="170.60,90.20 171.98,93.90 175.93,94.07 172.84,96.53 173.89,100.33 170.60,98.15 167.31,100.33 168.36,96.53 165.27,94.07 169.22,93.90" fill="#000"/><polygon points="170.60,93.30 171.42,94.97 173.26,95.23 171.93,96.53 172.25,98.37 170.60,97.50 168.95,98.37 169.27,96.53 167.94,95.23 169.78,94.97" fill="#ff1a1a"/>
<text transform="translate(244.5,155.3) rotate(-90)" font-size="9.5" font-weight="normal" fill="#1a1a1a" letter-spacing="0.55">(220)</text>
<polygon points="242.30,120.00 243.68,123.70 247.63,123.87 244.54,126.33 245.59,130.13 242.30,127.95 239.01,130.13 240.06,126.33 236.97,123.87 240.92,123.70" fill="#000"/><polygon points="242.30,123.10 243.12,124.77 244.96,125.03 243.63,126.33 243.95,128.17 242.30,127.30 240.65,128.17 240.97,126.33 239.64,125.03 241.48,124.77" fill="#ff1a1a"/>
<text transform="translate(292.5,158.0) rotate(-90)" font-size="9.5" font-weight="normal" fill="#1a1a1a" letter-spacing="0.55">(311)</text>
<polygon points="289.30,124.00 290.68,127.70 294.63,127.87 291.54,130.33 292.59,134.13 289.30,131.95 286.01,134.13 287.06,130.33 283.97,127.87 287.92,127.70" fill="#000"/><polygon points="289.30,127.10 290.12,128.77 291.96,129.03 290.63,130.33 290.95,132.17 289.30,131.30 287.65,132.17 287.97,130.33 286.64,129.03 288.48,128.77" fill="#ff1a1a"/>
<text transform="translate(308.8,172.5) rotate(-90)" font-size="9.5" font-weight="normal" fill="#1a1a1a" letter-spacing="0.55">(222)</text>
<polygon points="305.80,138.40 307.18,142.10 311.13,142.27 308.04,144.73 309.09,148.53 305.80,146.35 302.51,148.53 303.56,144.73 300.47,142.27 304.42,142.10" fill="#000"/><polygon points="305.80,141.50 306.62,143.17 308.46,143.43 307.13,144.73 307.45,146.57 305.80,145.70 304.15,146.57 304.47,144.73 303.14,143.43 304.98,143.17" fill="#ff1a1a"/>
<text transform="translate(96.8,144.5) rotate(-90)" font-size="9.5" font-weight="normal" fill="#1a1a1a" letter-spacing="0.55">(002)</text>
<text x="94.3" y="156.4" font-size="10.5" font-weight="bold" fill="#111" text-anchor="middle" >C</text>
<line x1="94.6" y1="160.0" x2="94.6" y2="167.0" stroke="#222" stroke-width="0.8"/><polygon points="93.0,165.2 96.2,165.2 94.6,169.0" fill="#111"/>
<text transform="translate(137.9,151.5) rotate(-90)" font-size="9.5" font-weight="normal" fill="#3a3af0" letter-spacing="0.75">(111)</text>
<text x="136.5" y="161.2" font-size="10.5" font-weight="bold" fill="#1a1aee" text-anchor="middle" >Pt</text>
<line x1="136.6" y1="164.0" x2="136.6" y2="169.5" stroke="#222" stroke-width="0.8"/><polygon points="135.0,167.7 138.2,167.7 136.6,171.5" fill="#111"/>
<rect x="200.0" y="8.0" width="102.0" height="15.6" fill="#fff" stroke="#505050" stroke-width="0.75"/>
<rect x="201.5" y="9.5" width="23.5" height="11.6" fill="#fff" stroke="#e24545" stroke-width="0.85"/>
<line x1="201.5" y1="15.3" x2="225.0" y2="15.3" stroke="#e03030" stroke-width="0.9"/>
<text x="228.0" y="18.6" font-size="10.3" font-weight="bold" fill="#111" letter-spacing="0.37">Ni<tspan font-size="5.8" dy="3.5">17</tspan><tspan dy="-3.5">Pt</tspan><tspan font-size="5.8" dy="3.5">3%</tspan><tspan dy="-3.5"> /CNFs</tspan></text>
<text x="255.0" y="38.4" font-size="11.2" font-weight="bold" fill="#111" text-anchor="middle" >(A)</text>
<rect x="266.5" y="43.5" width="36" height="20" fill="#fff" stroke="#79c3ee" stroke-width="0.9"/>
<polygon points="274.90,48.31 276.25,51.94 280.12,52.10 277.09,54.51 278.13,58.24 274.90,56.10 271.67,58.24 272.71,54.51 269.68,52.10 273.55,51.94" fill="#000"/><polygon points="274.90,51.36 275.71,52.99 277.51,53.25 276.20,54.52 276.51,56.32 274.90,55.47 273.29,56.32 273.60,54.52 272.29,53.25 274.09,52.99" fill="#ff1a1a"/>
<text x="282.6" y="56.4" font-size="11.0" font-weight="bold" fill="#111" text-anchor="start" >Ni</text>
<text transform="translate(14.4,100.2) rotate(-90) scale(1.010,1.100)" font-size="15.5" font-weight="bold" fill="#111" stroke="#111" stroke-width="0.3" text-anchor="middle">Count</text>
<text x="187.21" y="233.20" font-size="15.3" font-weight="bold" fill="#111">2</text><text transform="translate(196.16,233.20) scale(1.32,1)" font-family="Liberation Serif, serif" font-size="13.8" fill="#111" stroke="#111" stroke-width="0.2">&#952;</text><text x="203.81" y="223.87" font-size="7.5" font-weight="bold" fill="#111">o</text>
<path d="M416.4 2.4 H682.6 V201.9" fill="none" stroke="#5a5a5a" stroke-width="0.9"/>
<path d="M416.4 2.4 V201.9 H682.6" fill="none" stroke="#000" stroke-width="1.65"/>
<line x1="431.4" y1="201.9" x2="431.4" y2="205.5" stroke="#000" stroke-width="1.2"/>
<text x="431.4" y="218.9" font-size="11.6" font-weight="bold" fill="#111" text-anchor="middle" >20</text>
<line x1="490.5" y1="201.9" x2="490.5" y2="205.5" stroke="#000" stroke-width="1.2"/>
<text x="490.5" y="218.9" font-size="11.6" font-weight="bold" fill="#111" text-anchor="middle" >40</text>
<line x1="549.6" y1="201.9" x2="549.6" y2="205.5" stroke="#000" stroke-width="1.2"/>
<text x="549.6" y="218.9" font-size="11.6" font-weight="bold" fill="#111" text-anchor="middle" >60</text>
<line x1="608.7" y1="201.9" x2="608.7" y2="205.5" stroke="#000" stroke-width="1.2"/>
<text x="608.7" y="218.9" font-size="11.6" font-weight="bold" fill="#111" text-anchor="middle" >80</text>
<line x1="667.8" y1="201.9" x2="667.8" y2="205.5" stroke="#000" stroke-width="1.2"/>
<text x="667.8" y="218.9" font-size="11.6" font-weight="bold" fill="#111" text-anchor="middle" >100</text>
<line x1="460.9" y1="201.9" x2="460.9" y2="204.1" stroke="#000" stroke-width="1.0"/>
<line x1="520.0" y1="201.9" x2="520.0" y2="204.1" stroke="#000" stroke-width="1.0"/>
<line x1="579.1" y1="201.9" x2="579.1" y2="204.1" stroke="#000" stroke-width="1.0"/>
<line x1="638.2" y1="201.9" x2="638.2" y2="204.1" stroke="#000" stroke-width="1.0"/>
<line x1="412.4" y1="201.9" x2="416.4" y2="201.9" stroke="#000" stroke-width="1.2"/>
<text x="409.6" y="206.1" font-size="11.6" font-weight="bold" fill="#111" text-anchor="end" >0</text>
<line x1="412.4" y1="144.9" x2="416.4" y2="144.9" stroke="#000" stroke-width="1.2"/>
<text x="409.6" y="149.1" font-size="11.6" font-weight="bold" fill="#111" text-anchor="end" >4000</text>
<line x1="412.4" y1="87.9" x2="416.4" y2="87.9" stroke="#000" stroke-width="1.2"/>
<text x="409.6" y="92.1" font-size="11.6" font-weight="bold" fill="#111" text-anchor="end" >8000</text>
<line x1="412.4" y1="30.9" x2="416.4" y2="30.9" stroke="#000" stroke-width="1.2"/>
<text x="409.6" y="35.1" font-size="11.6" font-weight="bold" fill="#111" text-anchor="end" >12000</text>
<line x1="414.0" y1="173.4" x2="416.4" y2="173.4" stroke="#000" stroke-width="1.0"/>
<line x1="414.0" y1="116.4" x2="416.4" y2="116.4" stroke="#000" stroke-width="1.0"/>
<line x1="414.0" y1="59.4" x2="416.4" y2="59.4" stroke="#000" stroke-width="1.0"/>
<line x1="414.0" y1="2.4" x2="416.4" y2="2.4" stroke="#000" stroke-width="1.0"/>
<polyline fill="none" stroke="#ff0000" stroke-width="1.2" stroke-linejoin="round" points="416.6,150.9 416.7,151.6 416.8,152.3 416.9,151.2 417.0,152.8 417.1,152.9 417.2,152.4 417.3,153.6 417.4,154.1 417.5,153.8 417.6,152.5 417.7,151.6 417.8,153.4 417.9,154.6 418.0,154.2 418.0,154.7 418.1,154.5 418.2,154.2 418.3,155.3 418.4,155.7 418.5,156.2 418.6,156.0 418.7,156.0 418.8,156.8 418.9,156.8 419.0,156.9 419.1,157.5 419.2,158.2 419.3,158.4 419.4,157.7 419.5,157.0 419.6,156.6 419.7,158.9 419.8,158.3 419.9,157.4 420.0,156.9 420.1,157.8 420.2,159.0 420.3,158.7 420.4,158.5 420.5,158.8 420.6,159.1 420.7,160.0 420.8,158.2 420.9,158.0 420.9,159.3 421.0,159.4 421.1,159.9 421.2,160.6 421.3,160.0 421.4,159.6 421.5,160.5 421.6,160.9 421.7,160.7 421.8,160.1 421.9,160.0 422.0,161.0 422.1,160.8 422.2,161.4 422.3,162.7 422.4,162.2 422.5,161.7 422.6,161.6 422.7,162.0 422.8,163.2 422.9,162.6 423.0,162.8 423.1,163.2 423.2,162.0 423.3,161.7 423.4,162.4 423.5,162.1 423.6,162.6 423.7,162.9 423.8,163.1 423.8,162.6 423.9,164.4 424.0,163.5 424.1,163.0 424.2,164.4 424.3,163.8 424.4,163.1 424.5,162.4 424.6,162.3 424.7,163.8 424.8,164.3 424.9,162.6 425.0,162.5 425.1,163.6 425.2,163.5 425.3,163.3 425.4,163.3 425.5,163.3 425.6,163.3 425.7,164.7 425.8,163.7 425.9,163.7 426.0,164.0 426.1,164.1 426.2,165.5 426.3,164.0 426.4,164.1 426.5,165.1 426.6,164.6 426.7,164.0 426.7,162.3 426.8,162.5 426.9,164.1 427.0,165.3 427.1,165.5 427.2,165.4 427.3,165.6 427.4,165.9 427.5,165.7 427.6,165.5 427.7,165.7 427.8,166.0 427.9,165.3 428.0,163.9 428.1,165.9 428.2,166.3 428.3,165.3 428.4,165.3 428.5,164.9 428.6,164.3 428.7,164.1 428.8,164.8 428.9,165.7 429.0,165.4 429.1,166.6 429.2,166.2 429.3,166.3 429.4,166.4 429.5,165.5 429.6,165.4 429.6,165.4 429.7,166.4 429.8,165.4 429.9,165.2 430.0,166.0 430.1,166.9 430.2,166.8 430.3,167.7 430.4,167.0 430.5,163.8 430.6,163.9 430.7,164.5 430.8,165.7 430.9,165.5 431.0,165.2 431.1,165.5 431.2,166.0 431.3,166.8 431.4,167.6 431.5,166.1 431.6,165.4 431.7,165.3 431.8,165.7 431.9,165.1 432.0,166.5 432.1,167.1 432.2,166.1 432.3,166.7 432.4,167.4 432.4,166.4 432.5,165.7 432.6,165.9 432.7,164.9 432.8,163.0 432.9,164.4 433.0,165.6 433.1,167.4 433.2,166.5 433.3,165.9 433.4,166.8 433.5,167.2 433.6,166.5 433.7,166.8 433.8,166.8 433.9,165.5 434.0,165.2 434.1,166.1 434.2,166.7 434.3,166.1 434.4,165.7 434.5,166.3 434.6,167.7 434.7,167.2 434.8,166.3 434.9,165.9 435.0,165.6 435.1,166.2 435.2,167.5 435.3,167.9 435.3,167.3 435.4,165.7 435.5,166.0 435.6,166.0 435.7,165.9 435.8,167.0 435.9,167.8 436.0,167.4 436.1,166.6 436.2,165.5 436.3,166.0 436.4,167.2 436.5,166.4 436.6,166.4 436.7,167.4 436.8,167.7 436.9,168.2 437.0,167.2 437.1,167.3 437.2,168.1 437.3,167.7 437.4,167.0 437.5,167.1 437.6,166.6 437.7,166.6 437.8,167.4 437.9,166.8 438.0,165.3 438.1,166.4 438.2,167.5 438.2,167.4 438.3,167.6 438.4,166.3 438.5,166.0 438.6,165.7 438.7,165.8 438.8,166.1 438.9,166.0 439.0,166.6 439.1,167.6 439.2,167.9 439.3,168.1 439.4,168.3 439.5,166.6 439.6,167.6 439.7,167.7 439.8,168.3 439.9,168.7 440.0,167.5 440.1,167.1 440.2,166.8 440.3,166.5 440.4,166.9 440.5,166.4 440.6,166.3 440.7,166.8 440.8,166.8 440.9,166.2 441.0,166.3 441.1,167.0 441.1,168.1 441.2,166.9 441.3,166.1 441.4,166.2 441.5,165.5 441.6,164.5 441.7,165.2 441.8,165.5 441.9,166.4 442.0,166.5 442.1,166.2 442.2,166.0 442.3,165.4 442.4,165.3 442.5,164.9 442.6,165.3 442.7,165.1 442.8,164.0 442.9,163.3 443.0,162.5 443.1,161.7 443.2,160.5 443.3,158.9 443.4,158.3 443.5,159.0 443.6,159.8 443.7,159.9 443.8,162.4 443.9,163.6 443.9,162.7 444.0,162.9 444.1,163.5 444.2,164.3 444.3,165.7 444.4,165.5 444.5,163.9 444.6,164.1 444.7,165.0 444.8,164.4 444.9,166.0 445.0,166.3 445.1,166.0 445.2,166.7 445.3,166.6 445.4,166.3 445.5,166.1 445.6,165.3 445.7,165.6 445.8,166.8 445.9,166.7 446.0,166.0 446.1,166.2 446.2,166.4 446.3,165.6 446.4,165.3 446.5,165.9 446.6,165.8 446.7,167.2 446.8,167.2 446.8,166.0 446.9,166.4 447.0,166.6 447.1,166.2 447.2,166.0 447.3,165.8 447.4,166.5 447.5,165.2 447.6,163.0 447.7,164.8 447.8,166.4 447.9,165.0 448.0,164.1 448.1,163.8 448.2,164.6 448.3,165.0 448.4,163.8 448.5,164.4 448.6,165.7 448.7,164.7 448.8,164.4 448.9,164.0 449.0,164.4 449.1,164.0 449.2,164.1 449.3,164.1 449.4,164.5 449.5,164.8 449.6,164.4 449.7,163.9 449.7,163.6 449.8,163.1 449.9,163.6 450.0,163.4 450.1,162.8 450.2,163.9 450.3,164.4 450.4,165.0 450.5,164.4 450.6,163.4 450.7,163.8 450.8,164.0 450.9,165.7 451.0,166.2 451.1,165.5 451.2,165.3 451.3,163.2 451.4,163.9 451.5,165.9 451.6,165.9 451.7,165.8 451.8,165.3 451.9,165.2 452.0,164.5 452.1,164.4 452.2,165.8 452.3,166.6 452.4,165.8 452.5,165.6 452.6,165.3 452.6,165.7 452.7,165.5 452.8,165.8 452.9,166.4 453.0,166.5 453.1,165.3 453.2,164.2 453.3,165.3 453.4,166.2 453.5,166.1 453.6,166.7 453.7,167.5 453.8,166.4 453.9,165.6 454.0,166.9 454.1,167.6 454.2,166.3 454.3,165.2 454.4,165.5 454.5,165.4 454.6,164.6 454.7,165.0 454.8,166.2 454.9,167.0 455.0,167.1 455.1,166.9 455.2,166.8 455.3,167.2 455.4,166.2 455.5,166.8 455.5,167.2 455.6,167.2 455.7,168.8 455.8,168.5 455.9,167.7 456.0,166.9 456.1,167.0 456.2,166.4 456.3,167.1 456.4,167.2 456.5,167.3 456.6,166.7 456.7,167.0 456.8,167.1 456.9,167.8 457.0,168.3 457.1,167.4 457.2,166.8 457.3,168.1 457.4,168.8 457.5,167.7 457.6,167.1 457.7,168.0 457.8,167.9 457.9,167.4 458.0,167.4 458.1,166.8 458.2,166.3 458.3,167.0 458.3,167.1 458.4,166.7 458.5,167.4 458.6,168.3 458.7,168.6 458.8,167.9 458.9,166.2 459.0,166.7 459.1,166.7 459.2,166.8 459.3,167.6 459.4,167.2 459.5,168.1 459.6,169.0 459.7,168.3 459.8,168.2 459.9,167.7 460.0,166.5 460.1,165.6 460.2,167.1 460.3,167.4 460.4,167.0 460.5,167.1 460.6,167.6 460.7,168.4 460.8,168.3 460.9,168.0 461.0,168.3 461.1,168.4 461.2,168.1 461.2,167.1 461.3,167.6 461.4,166.4 461.5,167.5 461.6,168.5 461.7,168.2 461.8,166.7 461.9,166.5 462.0,167.5 462.1,167.3 462.2,167.3 462.3,167.4 462.4,167.0 462.5,167.1 462.6,169.0 462.7,169.3 462.8,167.7 462.9,167.1 463.0,167.2 463.1,168.6 463.2,168.0 463.3,166.7 463.4,167.7 463.5,167.5 463.6,167.8 463.7,168.1 463.8,168.0 463.9,167.2 464.0,168.6 464.1,168.8 464.1,167.9 464.2,166.5 464.3,166.5 464.4,166.6 464.5,167.0 464.6,166.9 464.7,166.3 464.8,165.8 464.9,167.0 465.0,167.9 465.1,166.7 465.2,167.1 465.3,168.0 465.4,167.8 465.5,167.4 465.6,165.9 465.7,167.3 465.8,168.6 465.9,167.6 466.0,167.3 466.1,166.3 466.2,167.1 466.3,168.5 466.4,168.2 466.5,168.2 466.6,168.0 466.7,168.2 466.8,168.6 466.9,167.6 467.0,167.8 467.0,167.7 467.1,166.1 467.2,165.5 467.3,166.4 467.4,166.2 467.5,167.8 467.6,167.1 467.7,167.1 467.8,167.2 467.9,167.6 468.0,167.5 468.1,167.1 468.2,166.9 468.3,165.8 468.4,164.9 468.5,166.4 468.6,167.2 468.7,168.3 468.8,168.2 468.9,166.2 469.0,166.9 469.1,166.9 469.2,165.8 469.3,165.0 469.4,164.6 469.5,164.0 469.6,165.3 469.7,166.3 469.8,165.0 469.9,164.5 469.9,164.7 470.0,164.3 470.1,163.3 470.2,161.7 470.3,162.5 470.4,162.7 470.5,161.7 470.6,161.7 470.7,160.2 470.8,159.7 470.9,160.5 471.0,160.7 471.1,160.4 471.2,159.5 471.3,160.8 471.4,162.9 471.5,163.5 471.6,163.2 471.7,163.5 471.8,164.2 471.9,164.1 472.0,164.2 472.1,163.8 472.2,164.4 472.3,165.1 472.4,165.5 472.5,165.9 472.6,165.1 472.7,165.4 472.7,166.1 472.8,166.1 472.9,165.8 473.0,164.5 473.1,165.7 473.2,165.9 473.3,166.1 473.4,166.8 473.5,166.7 473.6,166.6 473.7,166.3 473.8,166.0 473.9,165.6 474.0,165.8 474.1,166.7 474.2,167.2 474.3,167.3 474.4,167.8 474.5,167.9 474.6,166.6 474.7,166.5 474.8,167.1 474.9,168.2 475.0,168.7 475.1,168.8 475.2,167.0 475.3,165.8 475.4,165.8 475.5,166.6 475.6,167.2 475.6,166.6 475.7,166.1 475.8,165.6 475.9,165.6 476.0,166.2 476.1,166.0 476.2,165.4 476.3,165.5 476.4,166.5 476.5,167.7 476.6,166.6 476.7,165.2 476.8,164.9 476.9,164.7 477.0,165.2 477.1,164.9 477.2,164.1 477.3,163.8 477.4,163.6 477.5,162.8 477.6,162.1 477.7,162.4 477.8,163.8 477.9,163.2 478.0,162.2 478.1,161.9 478.2,161.4 478.3,159.5 478.4,159.4 478.5,159.2 478.5,159.9 478.6,158.8 478.7,158.2 478.8,158.5 478.9,157.4 479.0,157.2 479.1,159.8 479.2,160.7 479.3,159.7 479.4,160.8 479.5,162.5 479.6,163.5 479.7,162.8 479.8,162.7 479.9,162.8 480.0,164.4 480.1,164.8 480.2,164.9 480.3,164.7 480.4,163.9 480.5,164.3 480.6,165.4 480.7,165.6 480.8,165.3 480.9,164.9 481.0,165.7 481.1,166.5 481.2,166.2 481.3,165.5 481.4,164.7 481.4,164.2 481.5,164.4 481.6,165.3 481.7,165.9 481.8,165.5 481.9,166.0 482.0,166.2 482.1,165.7 482.2,165.2 482.3,165.3 482.4,166.7 482.5,167.2 482.6,166.1 482.7,166.1 482.8,165.6 482.9,166.5 483.0,167.0 483.1,166.7 483.2,164.8 483.3,165.5 483.4,166.0 483.5,166.2 483.6,165.8 483.7,165.1 483.8,165.3 483.9,165.3 484.0,165.0 484.1,165.9 484.2,164.6 484.3,164.4 484.3,166.0 484.4,165.9 484.5,166.8 484.6,167.5 484.7,166.4 484.8,164.9 484.9,164.7 485.0,165.5 485.1,166.1 485.2,165.9 485.3,165.9 485.4,166.4 485.5,167.1 485.6,165.9 485.7,164.6 485.8,163.2 485.9,163.9 486.0,164.8 486.1,164.7 486.2,164.7 486.3,165.7 486.4,166.6 486.5,165.8 486.6,165.0 486.7,164.8 486.8,165.3 486.9,165.5 487.0,164.9 487.1,164.3 487.1,164.0 487.2,164.3 487.3,164.3 487.4,164.7 487.5,163.9 487.6,164.4 487.7,165.2 487.8,164.6 487.9,164.3 488.0,164.6 488.1,163.8 488.2,163.9 488.3,163.9 488.4,164.4 488.5,163.6 488.6,163.2 488.7,163.9 488.8,164.1 488.9,164.0 489.0,163.5 489.1,163.3 489.2,163.1 489.3,163.7 489.4,164.7 489.5,164.8 489.6,163.9 489.7,162.5 489.8,161.2 489.9,162.1 490.0,163.9 490.0,164.6 490.1,163.2 490.2,163.2 490.3,163.7 490.4,162.6 490.5,162.8 490.6,163.7 490.7,164.1 490.8,162.6 490.9,162.5 491.0,163.1 491.1,163.6 491.2,162.8 491.3,161.6 491.4,161.3 491.5,160.6 491.6,161.1 491.7,161.7 491.8,161.6 491.9,162.4 492.0,163.5 492.1,163.0 492.2,162.4 492.3,162.9 492.4,163.1 492.5,162.7 492.6,161.5 492.7,162.8 492.8,163.3 492.9,162.6 492.9,161.1 493.0,160.8 493.1,161.7 493.2,161.6 493.3,162.1 493.4,161.0 493.5,159.2 493.6,159.9 493.7,161.2 493.8,162.1 493.9,161.7 494.0,162.3 494.1,162.3 494.2,160.2 494.3,159.4 494.4,159.2 494.5,159.1 494.6,159.9 494.7,158.7 494.8,159.1 494.9,158.5 495.0,157.9 495.1,157.1 495.2,156.8 495.3,158.2 495.4,159.5 495.5,160.1 495.6,159.8 495.7,160.7 495.8,161.3 495.8,160.5 495.9,160.0 496.0,160.8 496.1,161.5 496.2,161.3 496.3,162.2 496.4,162.0 496.5,160.3 496.6,160.0 496.7,160.0 496.8,161.5 496.9,160.9 497.0,160.4 497.1,159.4 497.2,160.9 497.3,161.6 497.4,161.0 497.5,161.1 497.6,161.3 497.7,160.5 497.8,160.2 497.9,160.2 498.0,160.8 498.1,161.7 498.2,161.6 498.3,161.0 498.4,161.0 498.5,159.8 498.6,160.5 498.6,161.0 498.7,160.0 498.8,159.9 498.9,159.4 499.0,159.3 499.1,158.8 499.2,160.3 499.3,161.9 499.4,161.7 499.5,160.8 499.6,158.6 499.7,157.4 499.8,158.6 499.9,159.2 500.0,157.7 500.1,157.2 500.2,157.3 500.3,156.6 500.4,156.5 500.5,156.5 500.6,155.2 500.7,155.0 500.8,154.8 500.9,153.1 501.0,150.6 501.1,149.0 501.2,148.6 501.3,149.0 501.4,148.1 501.5,145.7 501.5,143.7 501.6,141.6 501.7,139.7 501.8,136.7 501.9,132.4 502.0,126.2 502.1,120.2 502.2,113.9 502.3,104.7 502.4,94.4 502.5,83.9 502.6,72.3 502.7,63.7 502.8,61.3 502.9,64.2 503.0,73.5 503.1,85.1 503.2,96.9 503.3,107.6 503.4,115.3 503.5,122.2 503.6,128.3 503.7,132.8 503.8,136.3 503.9,139.9 504.0,142.8 504.1,144.6 504.2,146.1 504.3,148.4 504.4,150.3 504.4,151.0 504.5,152.3 504.6,153.2 504.7,154.7 504.8,156.4 504.9,157.5 505.0,157.8 505.1,158.4 505.2,159.6 505.3,158.5 505.4,158.2 505.5,159.6 505.6,161.2 505.7,161.7 505.8,160.8 505.9,160.6 506.0,160.9 506.1,161.2 506.2,162.2 506.3,162.3 506.4,162.2 506.5,162.5 506.6,162.3 506.7,162.5 506.8,163.4 506.9,164.2 507.0,163.9 507.1,163.2 507.2,164.3 507.3,164.3 507.3,164.1 507.4,162.8 507.5,163.9 507.6,164.2 507.7,164.1 507.8,162.7 507.9,164.6 508.0,165.1 508.1,165.4 508.2,164.9 508.3,165.7 508.4,166.0 508.5,166.4 508.6,165.8 508.7,164.8 508.8,164.5 508.9,166.4 509.0,165.5 509.1,165.4 509.2,165.9 509.3,165.7 509.4,165.3 509.5,165.5 509.6,165.9 509.7,166.3 509.8,166.1 509.9,165.7 510.0,166.4 510.1,166.4 510.2,165.8 510.2,165.5 510.3,165.6 510.4,166.5 510.5,167.3 510.6,165.7 510.7,164.7 510.8,164.8 510.9,165.2 511.0,165.4 511.1,166.4 511.2,167.0 511.3,166.6 511.4,166.1 511.5,165.3 511.6,165.4 511.7,166.5 511.8,166.7 511.9,166.3 512.0,165.8 512.1,165.3 512.2,165.9 512.3,165.8 512.4,167.2 512.5,166.7 512.6,165.1 512.7,165.6 512.8,166.0 512.9,165.9 513.0,166.3 513.0,166.3 513.1,166.1 513.2,166.0 513.3,166.2 513.4,166.6 513.5,166.4 513.6,166.7 513.7,166.2 513.8,166.3 513.9,166.2 514.0,166.3 514.1,167.0 514.2,167.0 514.3,166.5 514.4,165.8 514.5,165.6 514.6,166.3 514.7,166.8 514.8,166.4 514.9,166.1 515.0,165.5 515.1,164.8 515.2,165.0 515.3,167.2 515.4,167.1 515.5,166.3 515.6,165.6 515.7,165.6 515.8,165.9 515.9,165.9 515.9,166.6 516.0,166.6 516.1,166.4 516.2,166.6 516.3,165.6 516.4,166.7 516.5,167.2 516.6,166.7 516.7,167.6 516.8,167.0 516.9,166.0 517.0,164.4 517.1,163.5 517.2,165.5 517.3,166.9 517.4,166.0 517.5,165.7 517.6,166.4 517.7,165.5 517.8,164.5 517.9,165.3 518.0,166.5 518.1,166.9 518.2,167.3 518.3,166.7 518.4,165.9 518.5,165.2 518.6,166.8 518.7,167.1 518.8,165.7 518.8,165.2 518.9,165.7 519.0,165.2 519.1,164.6 519.2,164.5 519.3,164.6 519.4,165.1 519.5,165.9 519.6,164.8 519.7,164.9 519.8,165.6 519.9,165.4 520.0,165.2 520.1,165.1 520.2,164.9 520.3,165.1 520.4,164.9 520.5,162.9 520.6,162.6 520.7,162.3 520.8,163.0 520.9,162.5 521.0,162.7 521.1,161.9 521.2,161.8 521.3,162.2 521.4,162.6 521.5,162.1 521.6,161.8 521.7,163.3 521.7,163.1 521.8,162.8 521.9,162.0 522.0,160.4 522.1,159.8 522.2,159.7 522.3,159.1 522.4,159.7 522.5,159.4 522.6,158.2 522.7,157.4 522.8,157.3 522.9,157.0 523.0,155.0 523.1,153.4 523.2,153.6 523.3,153.0 523.4,152.2 523.5,150.4 523.6,148.8 523.7,145.7 523.8,142.1 523.9,139.8 524.0,137.1 524.1,133.4 524.2,131.0 524.3,128.0 524.4,128.4 524.5,131.5 524.6,134.8 524.6,137.8 524.7,139.6 524.8,143.3 524.9,147.2 525.0,149.2 525.1,150.4 525.2,152.0 525.3,152.8 525.4,154.0 525.5,155.7 525.6,155.2 525.7,155.0 525.8,156.4 525.9,157.4 526.0,158.7 526.1,159.3 526.2,159.5 526.3,160.8 526.4,161.4 526.5,160.5 526.6,161.1 526.7,161.2 526.8,161.3 526.9,161.3 527.0,161.4 527.1,161.9 527.2,162.4 527.3,162.3 527.4,162.9 527.4,163.2 527.5,163.7 527.6,163.8 527.7,163.9 527.8,162.9 527.9,163.5 528.0,165.0 528.1,165.9 528.2,165.0 528.3,163.8 528.4,164.4 528.5,164.1 528.6,164.7 528.7,165.4 528.8,165.7 528.9,164.8 529.0,164.0 529.1,164.1 529.2,164.9 529.3,165.9 529.4,165.8 529.5,166.4 529.6,166.2 529.7,165.7 529.8,166.1 529.9,165.6 530.0,165.3 530.1,164.7 530.2,165.3 530.3,165.1 530.3,164.7 530.4,164.9 530.5,165.6 530.6,166.7 530.7,166.0 530.8,167.0 530.9,167.4 531.0,167.9 531.1,166.9 531.2,166.5 531.3,166.5 531.4,166.7 531.5,166.4 531.6,166.5 531.7,165.9 531.8,165.8 531.9,167.1 532.0,166.3 532.1,166.1 532.2,166.8 532.3,165.8 532.4,164.3 532.5,164.7 532.6,165.2 532.7,164.4 532.8,164.6 532.9,165.4 533.0,164.8 533.1,163.9 533.2,163.3 533.2,162.7 533.3,162.3 533.4,162.0 533.5,161.8 533.6,161.3 533.7,160.7 533.8,159.9 533.9,160.1 534.0,160.5 534.1,159.6 534.2,159.1 534.3,160.8 534.4,161.5 534.5,162.8 534.6,163.1 534.7,162.7 534.8,162.5 534.9,162.7 535.0,164.5 535.1,164.7 535.2,163.8 535.3,164.3 535.4,165.8 535.5,165.6 535.6,164.7 535.7,165.0 535.8,166.3 535.9,166.6 536.0,167.4 536.1,165.6 536.1,165.0 536.2,166.8 536.3,167.2 536.4,167.7 536.5,167.0 536.6,166.1 536.7,165.9 536.8,166.5 536.9,167.8 537.0,167.1 537.1,165.4 537.2,166.1 537.3,166.9 537.4,166.8 537.5,167.1 537.6,167.0 537.7,167.5 537.8,167.9 537.9,167.7 538.0,165.8 538.1,165.7 538.2,166.0 538.3,166.1 538.4,167.0 538.5,167.6 538.6,166.6 538.7,166.1 538.8,166.4 538.9,167.5 538.9,168.0 539.0,166.6 539.1,166.5 539.2,167.0 539.3,167.2 539.4,167.3 539.5,167.8 539.6,168.3 539.7,167.6 539.8,167.3 539.9,167.0 540.0,167.1 540.1,167.2 540.2,167.7 540.3,166.5 540.4,165.4 540.5,166.4 540.6,166.4 540.7,166.2 540.8,166.5 540.9,167.2 541.0,168.4 541.1,167.7 541.2,166.1 541.3,166.5 541.4,166.4 541.5,166.0 541.6,167.6 541.7,166.6 541.8,166.8 541.8,168.5 541.9,168.0 542.0,167.1 542.1,167.7 542.2,167.7 542.3,166.9 542.4,167.1 542.5,167.1 542.6,167.2 542.7,167.0 542.8,166.3 542.9,165.3 543.0,166.4 543.1,167.5 543.2,167.0 543.3,166.0 543.4,165.0 543.5,167.2 543.6,166.9 543.7,166.4 543.8,166.2 543.9,167.8 544.0,168.2 544.1,167.0 544.2,166.3 544.3,166.5 544.4,166.6 544.5,166.8 544.6,166.4 544.7,166.9 544.7,167.1 544.8,166.4 544.9,167.9 545.0,168.7 545.1,167.9 545.2,167.4 545.3,167.3 545.4,167.3 545.5,167.1 545.6,167.6 545.7,167.6 545.8,166.4 545.9,166.7 546.0,166.4 546.1,166.7 546.2,166.4 546.3,166.4 546.4,167.9 546.5,166.8 546.6,166.6 546.7,166.7 546.8,167.3 546.9,167.4 547.0,167.6 547.1,168.1 547.2,167.1 547.3,165.6 547.4,165.4 547.5,165.9 547.6,167.1 547.6,167.5 547.7,168.1 547.8,168.9 547.9,168.1 548.0,167.6 548.1,166.5 548.2,166.2 548.3,166.9 548.4,167.9 548.5,167.5 548.6,166.3 548.7,166.4 548.8,166.5 548.9,167.0 549.0,166.7 549.1,167.3 549.2,167.6 549.3,167.3 549.4,168.0 549.5,167.9 549.6,166.3 549.7,166.5 549.8,167.4 549.9,167.1 550.0,166.5 550.1,167.9 550.2,168.6 550.3,166.6 550.4,167.9 550.5,168.5 550.5,169.6 550.6,169.4 550.7,167.9 550.8,168.0 550.9,167.2 551.0,167.2 551.1,167.2 551.2,166.7 551.3,166.2 551.4,166.4 551.5,168.1 551.6,168.0 551.7,166.7 551.8,166.6 551.9,167.8 552.0,168.3 552.1,168.3 552.2,169.9 552.3,169.0 552.4,167.2 552.5,167.4 552.6,166.0 552.7,166.6 552.8,166.3 552.9,164.9 553.0,166.0 553.1,167.4 553.2,167.9 553.3,168.4 553.3,168.8 553.4,167.5 553.5,167.3 553.6,167.5 553.7,166.9 553.8,167.9 553.9,169.0 554.0,168.5 554.1,167.5 554.2,166.5 554.3,165.9 554.4,166.9 554.5,166.7 554.6,166.2 554.7,166.5 554.8,167.2 554.9,168.1 555.0,167.3 555.1,165.7 555.2,166.5 555.3,167.5 555.4,168.0 555.5,166.9 555.6,166.0 555.7,167.4 555.8,168.0 555.9,167.6 556.0,167.7 556.1,167.2 556.2,165.5 556.2,166.3 556.3,168.0 556.4,167.3 556.5,166.5 556.6,166.8 556.7,166.8 556.8,167.5 556.9,166.9 557.0,166.7 557.1,166.5 557.2,166.9 557.3,167.1 557.4,166.4 557.5,166.0 557.6,166.3 557.7,167.4 557.8,167.1 557.9,166.5 558.0,166.4 558.1,166.2 558.2,165.4 558.3,164.1 558.4,163.4 558.5,163.8 558.6,165.3 558.7,167.6 558.8,166.3 558.9,165.2 559.0,165.5 559.1,165.0 559.1,165.7 559.2,165.9 559.3,166.1 559.4,166.3 559.5,167.2 559.6,167.1 559.7,167.4 559.8,167.9 559.9,167.8 560.0,166.6 560.1,167.1 560.2,166.5 560.3,166.6 560.4,166.6 560.5,166.8 560.6,167.3 560.7,167.2 560.8,165.1 560.9,165.3 561.0,166.6 561.1,168.6 561.2,168.3 561.3,167.7 561.4,167.3 561.5,167.3 561.6,166.7 561.7,166.6 561.8,166.1 561.9,166.2 562.0,167.5 562.0,167.9 562.1,167.6 562.2,166.6 562.3,166.9 562.4,167.5 562.5,167.8 562.6,166.8 562.7,166.6 562.8,166.6 562.9,167.1 563.0,167.3 563.1,165.8 563.2,165.8 563.3,166.0 563.4,166.0 563.5,165.1 563.6,165.9 563.7,166.1 563.8,166.1 563.9,165.7 564.0,164.5 564.1,164.8 564.2,165.2 564.3,164.7 564.4,164.5 564.5,164.6 564.6,164.9 564.7,165.1 564.8,166.3 564.9,166.1 564.9,164.9 565.0,165.3 565.1,166.8 565.2,166.2 565.3,165.8 565.4,165.7 565.5,166.8 565.6,166.3 565.7,166.3 565.8,167.7 565.9,167.4 566.0,166.4 566.1,166.6 566.2,166.3 566.3,167.0 566.4,168.0 566.5,167.3 566.6,167.0 566.7,167.2 566.8,166.9 566.9,167.9 567.0,167.7 567.1,167.7 567.2,168.3 567.3,169.1 567.4,169.5 567.5,168.8 567.6,167.9 567.7,167.9 567.7,167.7 567.8,167.7 567.9,167.7 568.0,167.1 568.1,167.1 568.2,168.2 568.3,168.0 568.4,168.0 568.5,166.5 568.6,167.6 568.7,167.7 568.8,166.8 568.9,166.7 569.0,166.3 569.1,166.2 569.2,166.8 569.3,166.2 569.4,167.5 569.5,167.6 569.6,167.5 569.7,169.1 569.8,168.6 569.9,167.6 570.0,167.1 570.1,167.6 570.2,167.3 570.3,167.8 570.4,166.8 570.5,166.8 570.6,167.7 570.6,167.9 570.7,167.8 570.8,168.0 570.9,167.7 571.0,166.5 571.1,166.7 571.2,167.4 571.3,168.5 571.4,167.6 571.5,166.7 571.6,167.3 571.7,167.9 571.8,167.5 571.9,167.0 572.0,168.0 572.1,169.3 572.2,168.6 572.3,168.0 572.4,168.6 572.5,167.8 572.6,166.6 572.7,165.4 572.8,165.8 572.9,167.3 573.0,168.7 573.1,168.1 573.2,168.8 573.3,168.4 573.4,167.2 573.5,167.6 573.5,167.2 573.6,167.0 573.7,166.8 573.8,167.5 573.9,167.3 574.0,166.2 574.1,166.5 574.2,167.1 574.3,167.3 574.4,167.1 574.5,167.3 574.6,167.1 574.7,167.8 574.8,169.2 574.9,169.3 575.0,167.9 575.1,165.8 575.2,166.0 575.3,167.6 575.4,168.3 575.5,168.1 575.6,167.5 575.7,166.8 575.8,168.0 575.9,168.9 576.0,168.6 576.1,168.1 576.2,166.7 576.3,167.2 576.4,167.5 576.4,168.0 576.5,168.9 576.6,167.7 576.7,167.2 576.8,167.6 576.9,167.4 577.0,167.7 577.1,167.4 577.2,167.0 577.3,167.4 577.4,167.2 577.5,167.3 577.6,167.6 577.7,168.0 577.8,168.1 577.9,167.4 578.0,166.5 578.1,166.6 578.2,166.5 578.3,167.5 578.4,168.3 578.5,167.0 578.6,166.9 578.7,166.5 578.8,166.4 578.9,166.5 579.0,167.7 579.1,169.3 579.2,167.5 579.3,166.8 579.3,166.6 579.4,166.5 579.5,166.8 579.6,167.3 579.7,168.3 579.8,167.6 579.9,166.7 580.0,167.0 580.1,168.4 580.2,169.2 580.3,168.4 580.4,167.5 580.5,166.8 580.6,165.8 580.7,166.3 580.8,167.5 580.9,167.3 581.0,167.4 581.1,167.1 581.2,167.4 581.3,166.8 581.4,167.6 581.5,168.1 581.6,168.0 581.7,167.1 581.8,167.1 581.9,166.9 582.0,167.0 582.1,167.4 582.1,166.2 582.2,166.4 582.3,167.1 582.4,167.4 582.5,167.8 582.6,167.7 582.7,166.8 582.8,167.1 582.9,167.5 583.0,167.8 583.1,166.9 583.2,165.7 583.3,167.1 583.4,169.4 583.5,169.5 583.6,167.8 583.7,168.2 583.8,167.4 583.9,166.7 584.0,166.2 584.1,165.9 584.2,167.1 584.3,167.5 584.4,168.1 584.5,168.7 584.6,167.9 584.7,166.1 584.8,166.1 584.9,167.4 585.0,167.0 585.0,167.1 585.1,167.0 585.2,167.7 585.3,167.3 585.4,167.4 585.5,168.1 585.6,168.1 585.7,167.8 585.8,167.0 585.9,165.7 586.0,165.3 586.1,165.5 586.2,166.2 586.3,166.7 586.4,167.8 586.5,167.2 586.6,166.3 586.7,166.9 586.8,167.5 586.9,167.0 587.0,166.9 587.1,167.2 587.2,167.4 587.3,166.9 587.4,167.4 587.5,167.8 587.6,167.2 587.7,166.4 587.8,165.7 587.9,166.4 587.9,167.9 588.0,166.7 588.1,166.3 588.2,166.3 588.3,165.5 588.4,165.3 588.5,166.2 588.6,167.1 588.7,167.4 588.8,166.9 588.9,166.8 589.0,166.9 589.1,165.5 589.2,165.1 589.3,165.4 589.4,165.0 589.5,165.8 589.6,166.7 589.7,165.7 589.8,165.2 589.9,166.8 590.0,167.5 590.1,166.8 590.2,168.0 590.3,167.8 590.4,166.8 590.5,166.4 590.6,165.5 590.7,166.0 590.8,165.8 590.8,165.6 590.9,166.1 591.0,166.6 591.1,167.1 591.2,165.4 591.3,165.8 591.4,166.7 591.5,166.8 591.6,166.4 591.7,166.5 591.8,166.3 591.9,166.9 592.0,167.5 592.1,167.2 592.2,166.6 592.3,165.8 592.4,165.7 592.5,166.0 592.6,165.7 592.7,165.9 592.8,165.7 592.9,165.4 593.0,165.2 593.1,165.7 593.2,165.3 593.3,165.2 593.4,165.5 593.5,164.7 593.6,164.1 593.6,163.7 593.7,164.9 593.8,165.5 593.9,164.9 594.0,163.6 594.1,163.5 594.2,163.4 594.3,162.1 594.4,160.7 594.5,159.5 594.6,159.8 594.7,160.4 594.8,159.4 594.9,159.7 595.0,158.8 595.1,158.2 595.2,158.8 595.3,157.6 595.4,156.1 595.5,154.7 595.6,155.3 595.7,154.7 595.8,154.5 595.9,154.3 596.0,154.2 596.1,152.8 596.2,152.0 596.3,152.7 596.4,155.1 596.5,155.7 596.5,154.5 596.6,153.6 596.7,154.3 596.8,155.9 596.9,156.4 597.0,155.5 597.1,156.2 597.2,158.3 597.3,158.9 597.4,158.8 597.5,158.1 597.6,158.9 597.7,160.0 597.8,161.5 597.9,161.6 598.0,161.9 598.1,162.1 598.2,162.3 598.3,163.2 598.4,163.8 598.5,163.2 598.6,164.4 598.7,165.3 598.8,165.7 598.9,164.6 599.0,164.6 599.1,165.4 599.2,165.7 599.3,165.2 599.4,165.6 599.4,166.0 599.5,165.1 599.6,164.6 599.7,164.9 599.8,164.9 599.9,165.0 600.0,164.4 600.1,165.0 600.2,165.8 600.3,165.3 600.4,165.8 600.5,166.7 600.6,167.0 600.7,167.2 600.8,168.1 600.9,167.7 601.0,167.5 601.1,168.0 601.2,167.9 601.3,168.0 601.4,168.1 601.5,167.2 601.6,166.5 601.7,166.2 601.8,165.9 601.9,166.8 602.0,167.3 602.1,166.7 602.2,165.6 602.3,165.6 602.3,166.9 602.4,166.9 602.5,166.9 602.6,167.3 602.7,168.8 602.8,168.5 602.9,169.4 603.0,169.8 603.1,167.9 603.2,167.4 603.3,166.2 603.4,165.9 603.5,165.8 603.6,166.4 603.7,167.3 603.8,167.5 603.9,168.6 604.0,168.4 604.1,166.8 604.2,165.8 604.3,167.0 604.4,168.1 604.5,167.5 604.6,166.6 604.7,166.4 604.8,166.5 604.9,165.8 605.0,166.0 605.1,166.9 605.2,166.9 605.2,165.8 605.3,167.2 605.4,168.0 605.5,168.1 605.6,167.9 605.7,168.5 605.8,167.9 605.9,168.4 606.0,167.8 606.1,168.7 606.2,169.0 606.3,168.4 606.4,167.7 606.5,167.9 606.6,168.4 606.7,167.8 606.8,167.7 606.9,168.4 607.0,167.1 607.1,168.0 607.2,169.5 607.3,168.2 607.4,167.8 607.5,168.1 607.6,168.1 607.7,167.8 607.8,167.1 607.9,167.1 608.0,167.1 608.0,167.3 608.1,166.7 608.2,167.2 608.3,167.2 608.4,167.6 608.5,167.5 608.6,166.7 608.7,166.7 608.8,167.3 608.9,167.6 609.0,167.7 609.1,167.1 609.2,166.9 609.3,166.8 609.4,167.2 609.5,167.3 609.6,167.0 609.7,167.3 609.8,166.8 609.9,166.3 610.0,166.2 610.1,167.0 610.2,167.1 610.3,166.8 610.4,167.1 610.5,167.1 610.6,167.3 610.7,167.8 610.8,168.1 610.9,167.5 610.9,167.0 611.0,167.3 611.1,167.6 611.2,167.1 611.3,166.4 611.4,167.3 611.5,167.6 611.6,166.6 611.7,167.1 611.8,166.4 611.9,167.1 612.0,168.4 612.1,168.0 612.2,167.8 612.3,167.8 612.4,167.6 612.5,167.0 612.6,166.7 612.7,166.4 612.8,167.3 612.9,167.4 613.0,167.0 613.1,167.5 613.2,167.7 613.3,167.6 613.4,168.4 613.5,168.7 613.6,168.0 613.7,167.0 613.8,167.0 613.8,168.1 613.9,168.0 614.0,167.3 614.1,167.4 614.2,167.8 614.3,167.1 614.4,167.5 614.5,167.8 614.6,167.7 614.7,166.6 614.8,166.5 614.9,167.1 615.0,166.4 615.1,166.3 615.2,166.8 615.3,167.2 615.4,167.1 615.5,167.9 615.6,168.2 615.7,167.7 615.8,166.9 615.9,167.0 616.0,168.6 616.1,168.3 616.2,168.1 616.3,167.8 616.4,168.0 616.5,166.8 616.6,167.2 616.7,167.1 616.7,168.1 616.8,167.2 616.9,166.0 617.0,166.6 617.1,168.5 617.2,169.2 617.3,169.0 617.4,168.1 617.5,168.2 617.6,166.5 617.7,166.2 617.8,166.5 617.9,167.7 618.0,167.9 618.1,168.1 618.2,169.1 618.3,169.0 618.4,168.1 618.5,168.0 618.6,168.2 618.7,168.4 618.8,167.2 618.9,166.5 619.0,167.2 619.1,167.8 619.2,167.1 619.3,166.9 619.4,167.6 619.5,168.9 619.6,168.9 619.6,166.8 619.7,167.0 619.8,168.1 619.9,169.0 620.0,169.4 620.1,167.6 620.2,167.5 620.3,167.6 620.4,167.8 620.5,167.7 620.6,167.8 620.7,168.8 620.8,168.5 620.9,167.3 621.0,166.7 621.1,167.1 621.2,167.5 621.3,168.5 621.4,168.4 621.5,167.7 621.6,167.7 621.7,167.9 621.8,168.3 621.9,169.4 622.0,169.2 622.1,167.7 622.2,167.8 622.3,168.3 622.4,166.9 622.4,165.3 622.5,167.2 622.6,167.7 622.7,167.9 622.8,168.4 622.9,168.2 623.0,167.3 623.1,168.4 623.2,168.8 623.3,167.1 623.4,167.6 623.5,167.3 623.6,167.5 623.7,167.5 623.8,166.9 623.9,168.0 624.0,167.7 624.1,167.8 624.2,169.0 624.3,168.6 624.4,166.9 624.5,165.9 624.6,167.4 624.7,169.1 624.8,168.0 624.9,169.0 625.0,168.9 625.1,168.0 625.2,167.7 625.3,168.0 625.3,167.4 625.4,166.5 625.5,168.2 625.6,167.7 625.7,166.8 625.8,167.4 625.9,168.5 626.0,166.9 626.1,166.7 626.2,168.3 626.3,168.2 626.4,166.9 626.5,167.6 626.6,168.4 626.7,167.9 626.8,168.6 626.9,169.4 627.0,169.6 627.1,168.3 627.2,168.6 627.3,168.9 627.4,168.2 627.5,167.4 627.6,167.5 627.7,167.2 627.8,167.4 627.9,166.6 628.0,166.3 628.1,167.4 628.2,168.3 628.2,169.2 628.3,168.2 628.4,166.5 628.5,167.2 628.6,169.1 628.7,169.2 628.8,168.5 628.9,167.9 629.0,167.8 629.1,167.7 629.2,167.5 629.3,167.9 629.4,168.2 629.5,168.5 629.6,170.0 629.7,169.2 629.8,168.0 629.9,167.2 630.0,166.9 630.1,166.4 630.2,166.5 630.3,167.3 630.4,167.5 630.5,167.5 630.6,168.1 630.7,168.2 630.8,168.0 630.9,168.5 631.0,167.9 631.1,167.2 631.1,167.0 631.2,168.5 631.3,168.2 631.4,167.2 631.5,167.8 631.6,167.9 631.7,167.9 631.8,167.3 631.9,168.6 632.0,168.7 632.1,168.2 632.2,167.0 632.3,167.8 632.4,168.6 632.5,167.4 632.6,168.4 632.7,167.8 632.8,167.2 632.9,168.1 633.0,168.8 633.1,169.4 633.2,168.6 633.3,166.0 633.4,166.0 633.5,167.0 633.6,168.9 633.7,169.0 633.8,168.7 633.9,167.0 633.9,166.3 634.0,167.9 634.1,168.1 634.2,167.2 634.3,168.0 634.4,167.6 634.5,167.7 634.6,167.4 634.7,168.2 634.8,168.9 634.9,168.3 635.0,168.6 635.1,167.2 635.2,165.7 635.3,166.5 635.4,168.7 635.5,169.8 635.6,170.2 635.7,169.4 635.8,169.2 635.9,168.2 636.0,166.2 636.1,166.7 636.2,167.5 636.3,168.0 636.4,167.4 636.5,167.0 636.6,167.0 636.7,166.5 636.8,166.7 636.8,167.9 636.9,168.0 637.0,167.0 637.1,168.0 637.2,167.4 637.3,166.6 637.4,166.2 637.5,167.8 637.6,168.2 637.7,166.7 637.8,168.1 637.9,169.5 638.0,168.8 638.1,167.2 638.2,166.1 638.3,166.4 638.4,167.2 638.5,167.7 638.6,167.0 638.7,166.7 638.8,167.3 638.9,166.5 639.0,165.6 639.1,166.6 639.2,167.1 639.3,167.0 639.4,166.8 639.5,166.9 639.6,166.0 639.7,165.8 639.7,166.0 639.8,166.3 639.9,165.4 640.0,164.9 640.1,166.1 640.2,166.5 640.3,166.4 640.4,166.6 640.5,166.0 640.6,165.0 640.7,165.3 640.8,165.9 640.9,166.2 641.0,165.9 641.1,165.1 641.2,165.5 641.3,165.2 641.4,165.2 641.5,166.0 641.6,165.0 641.7,164.6 641.8,165.9 641.9,165.4 642.0,164.0 642.1,163.5 642.2,162.6 642.3,161.9 642.4,162.1 642.5,161.8 642.6,162.1 642.6,163.1 642.7,161.9 642.8,160.6 642.9,159.6 643.0,159.6 643.1,158.7 643.2,158.4 643.3,159.4 643.4,159.0 643.5,157.0 643.6,156.8 643.7,155.7 643.8,155.4 643.9,155.6 644.0,156.1 644.1,154.9 644.2,157.1 644.3,156.9 644.4,155.3 644.5,154.5 644.6,154.9 644.7,155.7 644.8,157.1 644.9,156.7 645.0,156.9 645.1,159.2 645.2,159.8 645.3,158.8 645.4,158.2 645.5,159.4 645.5,161.2 645.6,161.7 645.7,162.1 645.8,162.4 645.9,161.0 646.0,162.4 646.1,163.7 646.2,164.4 646.3,163.6 646.4,163.2 646.5,162.7 646.6,163.1 646.7,164.0 646.8,163.5 646.9,163.2 647.0,164.9 647.1,165.2 647.2,164.8 647.3,165.4 647.4,165.5 647.5,166.0 647.6,165.1 647.7,165.1 647.8,166.4 647.9,166.9 648.0,166.1 648.1,166.3 648.2,166.9 648.3,166.0 648.3,166.2 648.4,165.1 648.5,165.0 648.6,165.8 648.7,166.3 648.8,167.5 648.9,166.9 649.0,166.6 649.1,167.9 649.2,167.8 649.3,165.9 649.4,165.8 649.5,165.5 649.6,166.6 649.7,169.1 649.8,168.6 649.9,167.4 650.0,167.0 650.1,167.2 650.2,167.6 650.3,167.6 650.4,167.6 650.5,166.7 650.6,167.7 650.7,167.7 650.8,166.9 650.9,167.4 651.0,167.5 651.1,167.9 651.2,167.5 651.2,167.4 651.3,168.8 651.4,169.3 651.5,168.5 651.6,166.9 651.7,166.5 651.8,166.2 651.9,166.2 652.0,167.5 652.1,168.1 652.2,167.6 652.3,167.0 652.4,166.5 652.5,166.9 652.6,167.1 652.7,168.1 652.8,168.3 652.9,166.4 653.0,166.9 653.1,167.6 653.2,166.8 653.3,165.8 653.4,167.3 653.5,168.1 653.6,168.2 653.7,168.4 653.8,168.6 653.9,166.9 654.0,167.3 654.1,167.7 654.1,166.8 654.2,166.9 654.3,166.4 654.4,167.1 654.5,167.3 654.6,166.9 654.7,166.9 654.8,167.6 654.9,167.7 655.0,167.6 655.1,169.2 655.2,169.6 655.3,167.7 655.4,166.5 655.5,165.9 655.6,166.2 655.7,165.5 655.8,165.2 655.9,166.2 656.0,167.1 656.1,167.2 656.2,167.0 656.3,167.3 656.4,166.2 656.5,165.6 656.6,166.1 656.7,165.8 656.8,166.5 656.9,166.3 657.0,166.6 657.0,167.8 657.1,166.8 657.2,165.5 657.3,165.0 657.4,165.5 657.5,166.7 657.6,167.1 657.7,167.6 657.8,166.6 657.9,166.3 658.0,166.4 658.1,167.1 658.2,166.0 658.3,166.7 658.4,167.5 658.5,165.9 658.6,164.7 658.7,165.8 658.8,166.7 658.9,167.7 659.0,166.8 659.1,165.6 659.2,165.9 659.3,166.5 659.4,166.2 659.5,165.0 659.6,166.3 659.7,167.2 659.8,166.1 659.9,165.9 659.9,166.0 660.0,166.2 660.1,166.3 660.2,165.8 660.3,164.6 660.4,165.3 660.5,165.3 660.6,164.2 660.7,163.5 660.8,163.6 660.9,164.2 661.0,164.4 661.1,164.0 661.2,164.1 661.3,163.8 661.4,163.2 661.5,163.5 661.6,163.6 661.7,164.5 661.8,164.7 661.9,164.5 662.0,164.7 662.1,165.9 662.2,165.6 662.3,164.1 662.4,164.9 662.5,166.3 662.6,167.3 662.7,166.5 662.7,165.1 662.8,165.2 662.9,166.8 663.0,166.5 663.1,165.8 663.2,165.9 663.3,166.4 663.4,166.6 663.5,166.7 663.6,167.2 663.7,166.7 663.8,166.5 663.9,166.8 664.0,166.0 664.1,166.3 664.2,167.5 664.3,167.8 664.4,167.2 664.5,166.9 664.6,166.9 664.7,167.2 664.8,167.0 664.9,165.4 665.0,165.4 665.1,166.6 665.2,166.9 665.3,166.7 665.4,166.5 665.5,166.8 665.6,167.2 665.6,168.9 665.7,168.9 665.8,168.8 665.9,169.2 666.0,168.7 666.1,168.6 666.2,168.9 666.3,168.7 666.4,168.0 666.5,168.2 666.6,167.9 666.7,168.4 666.8,168.4 666.9,169.4 667.0,169.5 667.1,168.1 667.2,167.3 667.3,166.1 667.4,166.8 667.5,167.4 667.6,167.7 667.7,168.0 667.8,167.6"/>
<text transform="translate(504.7,57.0) rotate(-90)" font-size="9.3" font-weight="normal" fill="#1a1a1a" letter-spacing="0.70">(111)</text>
<polygon points="502.00,22.20 503.38,25.90 507.33,26.07 504.24,28.53 505.29,32.33 502.00,30.15 498.71,32.33 499.76,28.53 496.67,26.07 500.62,25.90" fill="#000"/><polygon points="502.00,25.30 502.82,26.97 504.66,27.23 503.33,28.53 503.65,30.37 502.00,29.50 500.35,30.37 500.67,28.53 499.34,27.23 501.18,26.97" fill="#ff1a1a"/>
<text transform="translate(525.3,123.8) rotate(-90)" font-size="9.3" font-weight="normal" fill="#1a1a1a" letter-spacing="0.60">(200)</text>
<polygon points="523.50,88.40 524.88,92.10 528.83,92.27 525.74,94.73 526.79,98.53 523.50,96.35 520.21,98.53 521.26,94.73 518.17,92.27 522.12,92.10" fill="#000"/><polygon points="523.50,91.50 524.32,93.17 526.16,93.43 524.83,94.73 525.15,96.57 523.50,95.70 521.85,96.57 522.17,94.73 520.84,93.43 522.68,93.17" fill="#ff1a1a"/>
<text transform="translate(536.3,148.5) rotate(-90)" font-size="9.0" font-weight="normal" fill="#1a1a1a" letter-spacing="0.35">(116)</text>
<text transform="translate(556.8,154.5) rotate(-90)" font-size="9.0" font-weight="normal" fill="#1a1a1a" letter-spacing="0.35">(214)</text>
<text transform="translate(567.6,154.5) rotate(-90)" font-size="9.0" font-weight="normal" fill="#1a1a1a" letter-spacing="0.35">(300)</text>
<text transform="translate(597.3,148.5) rotate(-90)" font-size="9.3" font-weight="normal" fill="#1a1a1a" letter-spacing="0.50">(220)</text>
<polygon points="594.80,113.20 596.18,116.90 600.13,117.07 597.04,119.53 598.09,123.33 594.80,121.15 591.51,123.33 592.56,119.53 589.47,117.07 593.42,116.90" fill="#000"/><polygon points="594.80,116.30 595.62,117.97 597.46,118.23 596.13,119.53 596.45,121.37 594.80,120.50 593.15,121.37 593.47,119.53 592.14,118.23 593.98,117.97" fill="#ff1a1a"/>
<text transform="translate(646.8,147.5) rotate(-90)" font-size="9.3" font-weight="normal" fill="#1a1a1a" letter-spacing="0.50">(311)</text>
<polygon points="644.50,112.60 645.88,116.30 649.83,116.47 646.74,118.93 647.79,122.73 644.50,120.55 641.21,122.73 642.26,118.93 639.17,116.47 643.12,116.30" fill="#000"/><polygon points="644.50,115.70 645.32,117.37 647.16,117.63 645.83,118.93 646.15,120.77 644.50,119.90 642.85,120.77 643.17,118.93 641.84,117.63 643.68,117.37" fill="#ff1a1a"/>
<text transform="translate(662.6,157.0) rotate(-90)" font-size="9.3" font-weight="normal" fill="#1a1a1a" letter-spacing="0.50">(222)</text>
<polygon points="660.30,124.40 661.68,128.10 665.63,128.27 662.54,130.73 663.59,134.53 660.30,132.35 657.01,134.53 658.06,130.73 654.97,128.27 658.92,128.10" fill="#000"/><polygon points="660.30,127.50 661.12,129.17 662.96,129.43 661.63,130.73 661.95,132.57 660.30,131.70 658.65,132.57 658.97,130.73 657.64,129.43 659.48,129.17" fill="#ff1a1a"/>
<text transform="translate(441.8,148.3) rotate(-90)" font-size="10.2" font-weight="bold" fill="#000" letter-spacing="0.40">(012)</text>
<text transform="translate(452.6,129.8) rotate(-90)" font-size="10.2" font-weight="bold" fill="#000" letter-spacing="0.40">(002)</text>
<text x="449.4" y="140.1" font-size="10.8" font-weight="bold" fill="#111" text-anchor="middle" >C</text>
<line x1="449.2" y1="142.5" x2="449.2" y2="159.5" stroke="#222" stroke-width="0.8"/><polygon points="447.6,157.7 450.8,157.7 449.2,161.5" fill="#111"/>
<text transform="translate(469.6,146.0) rotate(-90)" font-size="9.0" font-weight="normal" fill="#1a1a1a" letter-spacing="0.35">(104)</text>
<text transform="translate(479.9,146.0) rotate(-90)" font-size="9.0" font-weight="normal" fill="#1a1a1a" letter-spacing="0.35">(110)</text>
<text transform="translate(491.6,128.6) rotate(-90)" font-size="9.3" font-weight="normal" fill="#3a3af0" letter-spacing="0.85">(111)</text>
<text x="490.2" y="137.0" font-size="10.8" font-weight="bold" fill="#1a1aee" text-anchor="middle" >Pt</text>
<line x1="489.4" y1="139.5" x2="489.4" y2="155.5" stroke="#222" stroke-width="0.8"/><polygon points="487.8,153.7 491.0,153.7 489.4,157.5" fill="#111"/>
<path d="M443.30 152.30 L443.30 150.80 M443.30 152.30 L444.73 151.84 M443.30 152.30 L444.18 153.51 M443.30 152.30 L442.42 153.51 M443.30 152.30 L441.87 151.84" stroke="#1a1a1a" stroke-width="0.8" fill="none"/>
<path d="M471.80 149.80 L471.80 148.30 M471.80 149.80 L473.23 149.34 M471.80 149.80 L472.68 151.01 M471.80 149.80 L470.92 151.01 M471.80 149.80 L470.37 149.34" stroke="#1a1a1a" stroke-width="0.8" fill="none"/>
<path d="M478.40 149.80 L478.40 148.30 M478.40 149.80 L479.83 149.34 M478.40 149.80 L479.28 151.01 M478.40 149.80 L477.52 151.01 M478.40 149.80 L476.97 149.34" stroke="#1a1a1a" stroke-width="0.8" fill="none"/>
<path d="M494.20 150.80 L494.20 149.30 M494.20 150.80 L495.63 150.34 M494.20 150.80 L495.08 152.01 M494.20 150.80 L493.32 152.01 M494.20 150.80 L492.77 150.34" stroke="#1a1a1a" stroke-width="0.8" fill="none"/>
<path d="M533.50 153.20 L533.50 151.70 M533.50 153.20 L534.93 152.74 M533.50 153.20 L534.38 154.41 M533.50 153.20 L532.62 154.41 M533.50 153.20 L532.07 152.74" stroke="#1a1a1a" stroke-width="0.8" fill="none"/>
<path d="M558.50 159.30 L558.50 157.80 M558.50 159.30 L559.93 158.84 M558.50 159.30 L559.38 160.51 M558.50 159.30 L557.62 160.51 M558.50 159.30 L557.07 158.84" stroke="#1a1a1a" stroke-width="0.8" fill="none"/>
<path d="M564.00 159.30 L564.00 157.80 M564.00 159.30 L565.43 158.84 M564.00 159.30 L564.88 160.51 M564.00 159.30 L563.12 160.51 M564.00 159.30 L562.57 158.84" stroke="#1a1a1a" stroke-width="0.8" fill="none"/>
<rect x="553.2" y="7.6" width="116.6" height="16.0" fill="#fff" stroke="#505050" stroke-width="0.75"/>
<rect x="554.7" y="9.1" width="23.5" height="12.0" fill="#fff" stroke="#e24545" stroke-width="0.85"/>
<line x1="554.7" y1="15.1" x2="578.2" y2="15.1" stroke="#e03030" stroke-width="0.9"/>
<text x="581.2" y="18.2" font-size="10.4" font-weight="bold" fill="#111" letter-spacing="0.20">Ni<tspan font-size="6.2" dy="3.5">14</tspan><tspan dy="-3.5">Pt</tspan><tspan font-size="6.2" dy="3.5">3</tspan><tspan dy="-3.5">Cr</tspan><tspan font-size="6.0" dy="3.5">3%</tspan><tspan dy="-3.5"> /CNFs</tspan></text>
<text x="602.7" y="36.6" font-size="11.3" font-weight="bold" fill="#111" text-anchor="middle" >(B)</text>
<rect x="620.5" y="34.7" width="52.3" height="38.2" fill="#fff" stroke="#79c3ee" stroke-width="0.9"/>
<polygon points="630.70,40.51 632.05,44.14 635.92,44.30 632.89,46.71 633.93,50.44 630.70,48.30 627.47,50.44 628.51,46.71 625.48,44.30 629.35,44.14" fill="#000"/><polygon points="630.70,43.56 631.51,45.19 633.31,45.45 632.00,46.72 632.31,48.52 630.70,47.67 629.09,48.52 629.40,46.72 628.09,45.45 629.89,45.19" fill="#ff1a1a"/>
<text x="640.5" y="49.0" font-size="11.2" font-weight="bold" fill="#111" text-anchor="start" >Ni</text>
<path d="M630.20 60.00 L630.20 57.70 M630.20 60.00 L632.39 59.29 M630.20 60.00 L631.55 61.86 M630.20 60.00 L628.85 61.86 M630.20 60.00 L628.01 59.29" stroke="#1a1a1a" stroke-width="0.8" fill="none"/>
<text x="638.5" y="62.5" font-size="11.0" font-weight="bold" fill="#111">Cr<tspan font-size="6.6" dy="3.8">2</tspan><tspan dy="-3.8">O</tspan><tspan font-size="6.6" dy="3.8">3</tspan></text>
<text transform="translate(369.0,101.0) rotate(-90) scale(1.020,1.140)" font-size="15.5" font-weight="bold" fill="#111" stroke="#111" stroke-width="0.3" text-anchor="middle">Count</text>
<text x="540.21" y="235.90" font-size="15.3" font-weight="bold" fill="#111">2</text><text transform="translate(549.16,235.90) scale(1.32,1)" font-family="Liberation Serif, serif" font-size="13.8" fill="#111" stroke="#111" stroke-width="0.2">&#952;</text><text x="556.81" y="226.57" font-size="7.5" font-weight="bold" fill="#111">o</text>
<path d="M227.0 273.8 H517.6 V487.5" fill="none" stroke="#5a5a5a" stroke-width="0.9"/>
<path d="M227.0 273.8 V487.5 H517.6" fill="none" stroke="#000" stroke-width="1.90"/>
<line x1="242.9" y1="487.5" x2="242.9" y2="491.9" stroke="#000" stroke-width="1.2"/>
<text x="242.9" y="504.5" font-size="12.5" font-weight="bold" fill="#111" text-anchor="middle" >20</text>
<line x1="307.4" y1="487.5" x2="307.4" y2="491.9" stroke="#000" stroke-width="1.2"/>
<text x="307.4" y="504.5" font-size="12.5" font-weight="bold" fill="#111" text-anchor="middle" >40</text>
<line x1="371.8" y1="487.5" x2="371.8" y2="491.9" stroke="#000" stroke-width="1.2"/>
<text x="371.8" y="504.5" font-size="12.5" font-weight="bold" fill="#111" text-anchor="middle" >60</text>
<line x1="436.2" y1="487.5" x2="436.2" y2="491.9" stroke="#000" stroke-width="1.2"/>
<text x="436.2" y="504.5" font-size="12.5" font-weight="bold" fill="#111" text-anchor="middle" >80</text>
<line x1="500.7" y1="487.5" x2="500.7" y2="491.9" stroke="#000" stroke-width="1.2"/>
<text x="500.7" y="504.5" font-size="12.5" font-weight="bold" fill="#111" text-anchor="middle" >100</text>
<line x1="275.1" y1="487.5" x2="275.1" y2="490.1" stroke="#000" stroke-width="1.0"/>
<line x1="339.6" y1="487.5" x2="339.6" y2="490.1" stroke="#000" stroke-width="1.0"/>
<line x1="404.0" y1="487.5" x2="404.0" y2="490.1" stroke="#000" stroke-width="1.0"/>
<line x1="468.5" y1="487.5" x2="468.5" y2="490.1" stroke="#000" stroke-width="1.0"/>
<line x1="222.2" y1="487.5" x2="227.0" y2="487.5" stroke="#000" stroke-width="1.2"/>
<text x="218.0" y="492.0" font-size="12.5" font-weight="bold" fill="#111" text-anchor="end" >0</text>
<line x1="222.2" y1="429.3" x2="227.0" y2="429.3" stroke="#000" stroke-width="1.2"/>
<text x="218.0" y="433.8" font-size="12.5" font-weight="bold" fill="#111" text-anchor="end" >3000</text>
<line x1="222.2" y1="371.2" x2="227.0" y2="371.2" stroke="#000" stroke-width="1.2"/>
<text x="218.0" y="375.7" font-size="12.5" font-weight="bold" fill="#111" text-anchor="end" >6000</text>
<line x1="222.2" y1="313.0" x2="227.0" y2="313.0" stroke="#000" stroke-width="1.2"/>
<text x="218.0" y="317.5" font-size="12.5" font-weight="bold" fill="#111" text-anchor="end" >9000</text>
<line x1="224.1" y1="458.4" x2="227.0" y2="458.4" stroke="#000" stroke-width="1.0"/>
<line x1="224.1" y1="400.2" x2="227.0" y2="400.2" stroke="#000" stroke-width="1.0"/>
<line x1="224.1" y1="342.1" x2="227.0" y2="342.1" stroke="#000" stroke-width="1.0"/>
<line x1="224.1" y1="283.9" x2="227.0" y2="283.9" stroke="#000" stroke-width="1.0"/>
<polyline fill="none" stroke="#ff0000" stroke-width="1.2" stroke-linejoin="round" points="226.8,447.8 226.9,448.5 227.0,449.7 227.1,451.0 227.2,450.4 227.3,450.1 227.4,450.1 227.5,450.4 227.6,450.3 227.7,450.8 227.9,451.0 228.0,449.6 228.1,448.9 228.2,448.8 228.3,450.0 228.4,450.9 228.5,451.5 228.6,451.7 228.7,450.7 228.8,451.7 228.9,452.1 229.0,451.0 229.1,449.9 229.2,450.8 229.3,452.0 229.4,451.8 229.5,451.0 229.6,451.5 229.8,452.1 229.9,451.6 230.0,450.5 230.1,450.2 230.2,452.2 230.3,452.7 230.4,453.1 230.5,454.1 230.6,453.4 230.7,452.6 230.8,451.4 230.9,452.2 231.0,453.1 231.1,452.1 231.2,452.7 231.3,453.7 231.4,453.3 231.5,453.1 231.6,453.1 231.8,453.2 231.9,454.2 232.0,453.0 232.1,451.5 232.2,451.3 232.3,451.2 232.4,451.1 232.5,451.5 232.6,452.9 232.7,452.9 232.8,454.1 232.9,454.2 233.0,454.2 233.1,452.2 233.2,451.7 233.3,452.2 233.4,451.8 233.5,453.0 233.6,453.0 233.8,453.2 233.9,453.7 234.0,452.6 234.1,451.8 234.2,453.2 234.3,452.8 234.4,452.6 234.5,451.8 234.6,452.3 234.7,452.5 234.8,452.6 234.9,453.4 235.0,454.0 235.1,453.1 235.2,454.1 235.3,453.5 235.4,453.2 235.5,454.0 235.7,453.3 235.8,452.7 235.9,453.5 236.0,455.1 236.1,456.3 236.2,455.3 236.3,454.5 236.4,454.5 236.5,454.5 236.6,453.9 236.7,454.1 236.8,453.8 236.9,453.5 237.0,454.4 237.1,453.7 237.2,452.1 237.3,453.0 237.4,454.7 237.5,454.2 237.7,453.2 237.8,452.8 237.9,453.7 238.0,454.5 238.1,454.5 238.2,453.6 238.3,453.7 238.4,454.4 238.5,454.4 238.6,454.2 238.7,453.8 238.8,454.3 238.9,453.7 239.0,453.2 239.1,453.8 239.2,454.3 239.3,453.5 239.4,454.2 239.6,454.2 239.7,455.1 239.8,455.7 239.9,454.4 240.0,454.0 240.1,454.1 240.2,454.2 240.3,454.9 240.4,455.0 240.5,454.1 240.6,452.7 240.7,453.3 240.8,454.3 240.9,454.2 241.0,454.7 241.1,454.6 241.2,454.0 241.3,455.0 241.4,456.0 241.6,455.5 241.7,454.5 241.8,453.9 241.9,453.6 242.0,454.4 242.1,453.9 242.2,453.9 242.3,454.2 242.4,453.7 242.5,454.1 242.6,454.7 242.7,454.2 242.8,455.1 242.9,454.7 243.0,454.3 243.1,454.3 243.2,454.9 243.3,454.7 243.4,454.3 243.6,454.0 243.7,454.8 243.8,454.7 243.9,455.0 244.0,454.8 244.1,452.8 244.2,454.2 244.3,455.3 244.4,454.1 244.5,454.8 244.6,454.3 244.7,453.9 244.8,454.9 244.9,455.2 245.0,455.1 245.1,455.2 245.2,456.1 245.3,455.9 245.5,454.7 245.6,453.6 245.7,453.3 245.8,452.8 245.9,453.7 246.0,454.7 246.1,455.3 246.2,456.3 246.3,456.0 246.4,455.5 246.5,454.4 246.6,454.1 246.7,454.9 246.8,455.5 246.9,455.9 247.0,454.9 247.1,454.2 247.2,454.3 247.3,454.4 247.5,452.9 247.6,453.1 247.7,454.4 247.8,455.0 247.9,454.8 248.0,454.4 248.1,454.3 248.2,453.9 248.3,453.4 248.4,452.9 248.5,453.2 248.6,454.1 248.7,454.2 248.8,454.7 248.9,454.4 249.0,453.2 249.1,453.7 249.2,453.1 249.4,454.0 249.5,454.0 249.6,453.4 249.7,453.9 249.8,454.1 249.9,454.5 250.0,454.8 250.1,454.7 250.2,454.4 250.3,453.2 250.4,453.5 250.5,453.7 250.6,455.8 250.7,454.7 250.8,453.8 250.9,453.9 251.0,453.2 251.1,453.4 251.2,454.0 251.4,453.1 251.5,451.8 251.6,453.0 251.7,453.8 251.8,454.2 251.9,454.3 252.0,455.0 252.1,453.8 252.2,451.8 252.3,452.2 252.4,452.8 252.5,452.3 252.6,451.9 252.7,452.3 252.8,451.7 252.9,452.3 253.0,452.8 253.1,452.9 253.2,455.1 253.4,454.5 253.5,453.7 253.6,454.1 253.7,453.9 253.8,454.0 253.9,453.2 254.0,451.2 254.1,452.0 254.2,452.6 254.3,452.1 254.4,452.5 254.5,452.2 254.6,451.8 254.7,451.7 254.8,453.0 254.9,452.2 255.0,452.3 255.1,452.8 255.3,451.8 255.4,451.8 255.5,450.6 255.6,450.5 255.7,450.6 255.8,450.5 255.9,450.5 256.0,451.5 256.1,450.5 256.2,449.9 256.3,448.9 256.4,448.1 256.5,447.4 256.6,446.8 256.7,444.1 256.8,442.6 256.9,443.2 257.0,442.4 257.1,440.7 257.3,438.6 257.4,437.8 257.5,439.4 257.6,439.9 257.7,440.6 257.8,441.7 257.9,442.6 258.0,442.8 258.1,443.8 258.2,443.3 258.3,444.5 258.4,446.8 258.5,447.9 258.6,447.6 258.7,447.0 258.8,448.7 258.9,449.7 259.0,448.9 259.2,448.6 259.3,448.8 259.4,447.8 259.5,448.2 259.6,448.8 259.7,449.5 259.8,449.2 259.9,449.5 260.0,450.4 260.1,449.4 260.2,449.7 260.3,449.1 260.4,448.6 260.5,446.5 260.6,446.5 260.7,446.2 260.8,446.3 260.9,447.9 261.0,448.4 261.2,446.4 261.3,444.8 261.4,444.4 261.5,443.6 261.6,443.5 261.7,444.4 261.8,442.8 261.9,441.3 262.0,442.8 262.1,443.7 262.2,442.5 262.3,441.7 262.4,441.3 262.5,441.7 262.6,441.9 262.7,442.6 262.8,440.9 262.9,439.8 263.0,440.9 263.2,443.0 263.3,443.7 263.4,445.3 263.5,444.2 263.6,444.4 263.7,445.3 263.8,445.1 263.9,445.1 264.0,445.3 264.1,446.1 264.2,447.2 264.3,449.0 264.4,449.2 264.5,448.6 264.6,448.3 264.7,448.2 264.8,448.1 264.9,449.6 265.1,449.9 265.2,449.7 265.3,450.0 265.4,450.1 265.5,450.4 265.6,449.8 265.7,450.4 265.8,450.2 265.9,450.4 266.0,450.5 266.1,451.9 266.2,451.6 266.3,451.8 266.4,451.4 266.5,451.2 266.6,452.9 266.7,453.6 266.8,453.2 266.9,452.8 267.1,453.7 267.2,453.2 267.3,453.7 267.4,453.9 267.5,453.1 267.6,452.7 267.7,453.3 267.8,453.4 267.9,453.1 268.0,453.9 268.1,455.2 268.2,454.0 268.3,452.8 268.4,451.7 268.5,451.2 268.6,452.1 268.7,453.3 268.8,454.0 269.0,453.3 269.1,452.4 269.2,452.5 269.3,453.7 269.4,453.3 269.5,452.3 269.6,451.9 269.7,453.0 269.8,454.1 269.9,454.4 270.0,454.3 270.1,454.1 270.2,453.0 270.3,452.5 270.4,452.6 270.5,452.8 270.6,453.8 270.7,453.8 270.8,454.1 271.0,453.7 271.1,453.0 271.2,454.2 271.3,455.5 271.4,454.9 271.5,455.0 271.6,455.6 271.7,454.8 271.8,453.1 271.9,452.7 272.0,453.8 272.1,453.2 272.2,453.3 272.3,454.8 272.4,454.5 272.5,454.2 272.6,454.5 272.7,455.5 272.8,454.7 273.0,453.2 273.1,452.6 273.2,452.7 273.3,453.6 273.4,452.8 273.5,453.7 273.6,455.0 273.7,454.2 273.8,454.3 273.9,454.1 274.0,454.0 274.1,453.5 274.2,454.0 274.3,454.3 274.4,453.7 274.5,454.1 274.6,454.4 274.7,453.7 274.9,454.6 275.0,455.2 275.1,455.5 275.2,455.9 275.3,454.8 275.4,453.5 275.5,454.7 275.6,455.1 275.7,455.6 275.8,454.9 275.9,453.3 276.0,453.6 276.1,454.8 276.2,455.0 276.3,455.4 276.4,455.7 276.5,455.7 276.6,455.4 276.7,454.4 276.9,453.9 277.0,454.1 277.1,455.0 277.2,455.7 277.3,455.3 277.4,455.1 277.5,454.1 277.6,453.8 277.7,454.0 277.8,455.2 277.9,455.9 278.0,454.1 278.1,453.9 278.2,455.4 278.3,454.6 278.4,454.0 278.5,454.7 278.6,453.7 278.7,454.7 278.9,455.2 279.0,453.8 279.1,454.3 279.2,454.8 279.3,454.7 279.4,455.4 279.5,454.0 279.6,454.7 279.7,454.8 279.8,454.8 279.9,454.2 280.0,454.1 280.1,454.8 280.2,454.3 280.3,454.8 280.4,455.3 280.5,455.3 280.6,455.7 280.8,455.2 280.9,454.2 281.0,454.2 281.1,453.7 281.2,454.2 281.3,455.8 281.4,456.5 281.5,455.5 281.6,454.5 281.7,454.7 281.8,454.9 281.9,454.5 282.0,455.9 282.1,455.9 282.2,454.2 282.3,452.7 282.4,453.8 282.5,454.9 282.6,454.1 282.8,453.5 282.9,453.6 283.0,454.6 283.1,455.0 283.2,454.3 283.3,453.5 283.4,452.4 283.5,452.4 283.6,454.3 283.7,454.7 283.8,454.3 283.9,454.1 284.0,453.5 284.1,453.3 284.2,453.2 284.3,452.7 284.4,453.7 284.5,454.8 284.7,455.2 284.8,454.8 284.9,454.8 285.0,454.6 285.1,452.9 285.2,452.5 285.3,453.0 285.4,453.4 285.5,453.6 285.6,452.2 285.7,450.5 285.8,451.7 285.9,450.3 286.0,448.6 286.1,448.1 286.2,447.3 286.3,445.8 286.4,444.9 286.5,442.0 286.7,439.5 286.8,438.8 286.9,436.9 287.0,434.2 287.1,432.4 287.2,432.4 287.3,434.4 287.4,437.7 287.5,440.3 287.6,441.5 287.7,443.4 287.8,445.9 287.9,446.8 288.0,447.3 288.1,448.2 288.2,449.9 288.3,450.4 288.4,451.6 288.5,451.9 288.7,451.4 288.8,450.0 288.9,449.3 289.0,451.3 289.1,452.0 289.2,452.3 289.3,453.6 289.4,453.3 289.5,453.6 289.6,452.1 289.7,451.8 289.8,453.0 289.9,453.6 290.0,452.5 290.1,453.1 290.2,453.5 290.3,453.8 290.4,454.9 290.6,453.7 290.7,452.9 290.8,453.4 290.9,454.0 291.0,454.5 291.1,453.7 291.2,453.6 291.3,454.0 291.4,454.1 291.5,453.1 291.6,452.7 291.7,453.0 291.8,452.8 291.9,452.2 292.0,452.2 292.1,453.3 292.2,454.0 292.3,454.1 292.4,453.6 292.6,452.9 292.7,452.8 292.8,453.5 292.9,453.6 293.0,453.6 293.1,452.6 293.2,452.9 293.3,452.9 293.4,453.2 293.5,453.0 293.6,452.3 293.7,450.6 293.8,450.8 293.9,451.3 294.0,451.4 294.1,450.4 294.2,448.2 294.3,446.9 294.5,447.5 294.6,446.1 294.7,443.5 294.8,441.4 294.9,439.1 295.0,435.1 295.1,432.5 295.2,432.6 295.3,432.3 295.4,433.3 295.5,436.2 295.6,439.3 295.7,440.6 295.8,443.7 295.9,446.4 296.0,447.3 296.1,449.0 296.2,449.5 296.3,450.7 296.5,450.6 296.6,451.2 296.7,450.7 296.8,450.9 296.9,451.6 297.0,451.9 297.1,452.2 297.2,453.7 297.3,452.9 297.4,452.4 297.5,452.3 297.6,451.4 297.7,450.2 297.8,452.0 297.9,452.7 298.0,452.6 298.1,452.7 298.2,454.1 298.3,452.9 298.5,454.2 298.6,455.7 298.7,455.0 298.8,453.9 298.9,453.4 299.0,453.3 299.1,452.9 299.2,453.4 299.3,454.2 299.4,455.0 299.5,453.4 299.6,452.7 299.7,454.0 299.8,455.4 299.9,454.5 300.0,452.7 300.1,453.6 300.2,454.3 300.4,454.0 300.5,453.2 300.6,453.8 300.7,454.5 300.8,454.7 300.9,453.5 301.0,452.5 301.1,452.8 301.2,452.5 301.3,452.7 301.4,452.9 301.5,452.9 301.6,452.7 301.7,452.1 301.8,452.5 301.9,453.2 302.0,453.0 302.1,452.8 302.2,452.4 302.4,452.4 302.5,452.8 302.6,453.6 302.7,452.4 302.8,451.9 302.9,452.8 303.0,451.6 303.1,451.9 303.2,453.0 303.3,453.6 303.4,452.3 303.5,452.9 303.6,452.8 303.7,452.2 303.8,453.1 303.9,453.5 304.0,453.3 304.1,452.3 304.3,451.5 304.4,451.4 304.5,451.6 304.6,452.0 304.7,452.0 304.8,451.7 304.9,450.3 305.0,451.5 305.1,453.3 305.2,452.4 305.3,450.9 305.4,452.2 305.5,452.0 305.6,451.4 305.7,451.7 305.8,450.3 305.9,449.8 306.0,451.0 306.1,450.7 306.3,451.6 306.4,451.9 306.5,450.9 306.6,450.8 306.7,450.9 306.8,450.6 306.9,451.8 307.0,451.9 307.1,451.4 307.2,450.0 307.3,449.5 307.4,450.0 307.5,451.1 307.6,450.4 307.7,450.3 307.8,451.5 307.9,451.0 308.0,449.6 308.1,449.2 308.3,449.4 308.4,449.3 308.5,449.4 308.6,449.6 308.7,450.0 308.8,450.4 308.9,450.1 309.0,449.3 309.1,447.8 309.2,448.6 309.3,449.3 309.4,449.5 309.5,449.4 309.6,449.2 309.7,448.7 309.8,448.6 309.9,448.5 310.0,449.0 310.2,448.4 310.3,448.2 310.4,449.1 310.5,448.5 310.6,448.2 310.7,448.5 310.8,449.0 310.9,449.1 311.0,447.5 311.1,448.2 311.2,448.2 311.3,447.3 311.4,447.6 311.5,445.9 311.6,445.1 311.7,444.9 311.8,445.2 311.9,445.8 312.0,445.1 312.2,442.7 312.3,442.7 312.4,442.3 312.5,441.1 312.6,442.2 312.7,442.7 312.8,443.0 312.9,443.6 313.0,444.7 313.1,444.6 313.2,443.8 313.3,445.1 313.4,448.2 313.5,448.1 313.6,446.5 313.7,446.6 313.8,446.7 313.9,446.6 314.1,447.7 314.2,446.6 314.3,446.6 314.4,446.7 314.5,446.7 314.6,446.7 314.7,447.5 314.8,447.7 314.9,446.9 315.0,447.4 315.1,447.9 315.2,446.4 315.3,445.7 315.4,445.9 315.5,446.8 315.6,447.1 315.7,447.7 315.8,448.0 315.9,447.2 316.1,447.0 316.2,446.9 316.3,446.0 316.4,447.7 316.5,447.8 316.6,446.9 316.7,445.6 316.8,446.1 316.9,446.6 317.0,446.8 317.1,446.8 317.2,446.3 317.3,444.6 317.4,443.9 317.5,443.9 317.6,443.9 317.7,442.5 317.8,444.2 317.9,445.0 318.1,443.4 318.2,441.9 318.3,441.3 318.4,441.4 318.5,439.6 318.6,438.3 318.7,439.0 318.8,438.9 318.9,437.9 319.0,435.3 319.1,432.9 319.2,431.1 319.3,429.1 319.4,426.7 319.5,424.8 319.6,421.9 319.7,419.4 319.8,415.0 320.0,409.0 320.1,402.5 320.2,393.2 320.3,382.4 320.4,371.2 320.5,358.9 320.6,345.2 320.7,333.7 320.8,330.3 320.9,333.9 321.0,343.9 321.1,356.8 321.2,370.0 321.3,383.5 321.4,394.2 321.5,401.2 321.6,408.1 321.7,413.9 321.8,418.8 322.0,422.1 322.1,424.7 322.2,427.7 322.3,431.3 322.4,433.6 322.5,434.8 322.6,436.2 322.7,437.7 322.8,440.2 322.9,442.1 323.0,441.3 323.1,441.2 323.2,441.8 323.3,442.0 323.4,443.3 323.5,444.7 323.6,444.8 323.7,445.4 323.9,445.4 324.0,446.2 324.1,446.8 324.2,447.3 324.3,448.3 324.4,449.4 324.5,449.6 324.6,450.5 324.7,449.1 324.8,448.0 324.9,447.7 325.0,449.2 325.1,450.9 325.2,451.1 325.3,449.7 325.4,450.9 325.5,451.1 325.6,452.4 325.7,451.5 325.9,450.6 326.0,450.9 326.1,451.6 326.2,452.4 326.3,452.3 326.4,451.1 326.5,451.3 326.6,451.9 326.7,452.2 326.8,452.5 326.9,451.4 327.0,451.3 327.1,452.6 327.2,452.3 327.3,451.9 327.4,452.3 327.5,450.9 327.6,451.1 327.7,452.3 327.9,451.7 328.0,451.7 328.1,453.3 328.2,452.9 328.3,453.1 328.4,453.1 328.5,452.8 328.6,453.7 328.7,454.8 328.8,454.7 328.9,453.5 329.0,452.9 329.1,453.3 329.2,453.5 329.3,453.2 329.4,452.4 329.5,452.9 329.6,454.0 329.8,453.6 329.9,452.9 330.0,453.8 330.1,454.1 330.2,454.0 330.3,454.2 330.4,453.9 330.5,454.7 330.6,453.3 330.7,454.0 330.8,454.7 330.9,454.3 331.0,454.9 331.1,453.6 331.2,453.2 331.3,454.2 331.4,454.0 331.5,453.4 331.6,454.1 331.8,453.9 331.9,453.2 332.0,452.7 332.1,453.8 332.2,453.7 332.3,453.7 332.4,455.6 332.5,455.3 332.6,455.9 332.7,455.3 332.8,452.9 332.9,452.8 333.0,452.8 333.1,453.6 333.2,453.7 333.3,454.2 333.4,454.4 333.5,454.1 333.7,453.4 333.8,452.7 333.9,453.5 334.0,453.7 334.1,453.9 334.2,454.2 334.3,454.5 334.4,453.5 334.5,453.9 334.6,454.0 334.7,453.7 334.8,453.0 334.9,453.1 335.0,453.6 335.1,453.5 335.2,453.2 335.3,452.9 335.4,452.7 335.5,452.1 335.7,451.9 335.8,453.0 335.9,453.9 336.0,452.0 336.1,451.5 336.2,453.3 336.3,454.4 336.4,454.8 336.5,453.5 336.6,453.3 336.7,452.7 336.8,454.5 336.9,453.5 337.0,452.6 337.1,453.3 337.2,453.5 337.3,452.9 337.4,453.1 337.5,453.0 337.7,452.7 337.8,452.8 337.9,452.3 338.0,451.6 338.1,451.9 338.2,451.8 338.3,451.7 338.4,451.0 338.5,451.4 338.6,451.0 338.7,452.5 338.8,451.8 338.9,450.6 339.0,448.6 339.1,448.4 339.2,449.0 339.3,447.9 339.4,446.1 339.6,446.0 339.7,446.1 339.8,447.3 339.9,447.2 340.0,445.2 340.1,444.3 340.2,445.9 340.3,446.5 340.4,447.1 340.5,446.6 340.6,447.5 340.7,448.6 340.8,449.4 340.9,448.6 341.0,447.5 341.1,447.1 341.2,448.1 341.3,447.4 341.4,447.6 341.6,447.9 341.7,448.3 341.8,448.6 341.9,447.4 342.0,445.4 342.1,446.1 342.2,445.3 342.3,444.1 342.4,444.7 342.5,443.0 342.6,441.9 342.7,440.3 342.8,438.4 342.9,437.4 343.0,435.5 343.1,432.5 343.2,429.8 343.3,427.4 343.5,423.8 343.6,419.7 343.7,414.6 343.8,412.2 343.9,409.8 344.0,409.0 344.1,412.1 344.2,417.1 344.3,421.9 344.4,425.6 344.5,428.2 344.6,431.4 344.7,433.8 344.8,435.0 344.9,438.7 345.0,440.9 345.1,441.9 345.2,442.5 345.3,443.4 345.5,444.5 345.6,444.7 345.7,445.5 345.8,447.3 345.9,448.9 346.0,448.0 346.1,448.8 346.2,449.3 346.3,449.5 346.4,450.5 346.5,450.5 346.6,450.1 346.7,450.3 346.8,450.5 346.9,451.3 347.0,451.6 347.1,452.0 347.2,451.7 347.3,451.4 347.5,452.1 347.6,453.0 347.7,452.4 347.8,451.7 347.9,451.3 348.0,452.1 348.1,453.0 348.2,453.0 348.3,451.6 348.4,453.2 348.5,453.9 348.6,453.7 348.7,454.1 348.8,452.6 348.9,452.5 349.0,453.0 349.1,453.9 349.2,453.6 349.4,452.5 349.5,451.7 349.6,450.7 349.7,452.3 349.8,454.6 349.9,454.0 350.0,453.5 350.1,452.9 350.2,453.2 350.3,453.4 350.4,453.6 350.5,452.9 350.6,452.6 350.7,454.3 350.8,455.7 350.9,454.7 351.0,452.8 351.1,453.3 351.2,454.2 351.4,454.3 351.5,453.2 351.6,453.3 351.7,454.0 351.8,454.3 351.9,454.2 352.0,453.9 352.1,453.1 352.2,453.2 352.3,455.3 352.4,455.4 352.5,454.2 352.6,454.1 352.7,455.0 352.8,454.6 352.9,454.2 353.0,454.1 353.1,454.0 353.3,453.4 353.4,452.5 353.5,452.3 353.6,452.4 353.7,452.8 353.8,453.4 353.9,453.0 354.0,451.9 354.1,451.6 354.2,451.0 354.3,450.9 354.4,450.5 354.5,450.2 354.6,450.4 354.7,449.0 354.8,447.3 354.9,445.1 355.0,443.7 355.1,441.3 355.3,439.0 355.4,436.4 355.5,435.2 355.6,435.9 355.7,437.4 355.8,439.3 355.9,441.4 356.0,444.2 356.1,446.2 356.2,448.1 356.3,449.5 356.4,449.7 356.5,450.3 356.6,451.2 356.7,450.8 356.8,452.0 356.9,451.9 357.0,452.6 357.1,454.1 357.3,454.0 357.4,454.5 357.5,453.8 357.6,452.6 357.7,451.9 357.8,453.1 357.9,454.9 358.0,454.2 358.1,452.9 358.2,453.1 358.3,453.0 358.4,454.4 358.5,455.2 358.6,455.6 358.7,454.7 358.8,453.8 358.9,454.6 359.0,453.9 359.2,453.7 359.3,453.8 359.4,454.5 359.5,454.0 359.6,453.3 359.7,454.8 359.8,454.0 359.9,453.1 360.0,453.4 360.1,454.1 360.2,456.6 360.3,456.0 360.4,455.8 360.5,455.4 360.6,454.8 360.7,454.6 360.8,455.0 360.9,454.7 361.0,455.5 361.2,454.5 361.3,455.2 361.4,456.7 361.5,457.1 361.6,456.9 361.7,456.0 361.8,454.7 361.9,453.6 362.0,454.3 362.1,456.3 362.2,457.1 362.3,456.1 362.4,456.1 362.5,455.6 362.6,454.8 362.7,453.6 362.8,455.5 362.9,454.7 363.1,453.6 363.2,455.0 363.3,455.2 363.4,454.5 363.5,456.6 363.6,457.2 363.7,456.3 363.8,454.8 363.9,454.3 364.0,454.3 364.1,453.4 364.2,454.6 364.3,455.1 364.4,454.9 364.5,454.1 364.6,454.8 364.7,454.8 364.8,453.5 364.9,453.3 365.1,454.2 365.2,456.0 365.3,456.2 365.4,455.5 365.5,455.4 365.6,455.4 365.7,455.1 365.8,454.8 365.9,455.5 366.0,455.2 366.1,455.3 366.2,455.5 366.3,455.1 366.4,454.4 366.5,454.8 366.6,455.4 366.7,454.9 366.8,454.7 366.9,454.7 367.1,454.8 367.2,454.2 367.3,454.7 367.4,456.1 367.5,456.6 367.6,456.2 367.7,455.2 367.8,455.4 367.9,455.4 368.0,454.7 368.1,453.4 368.2,453.0 368.3,453.9 368.4,453.3 368.5,453.6 368.6,453.9 368.7,455.1 368.8,455.8 369.0,454.5 369.1,454.2 369.2,455.8 369.3,455.3 369.4,454.6 369.5,454.7 369.6,455.7 369.7,455.4 369.8,453.9 369.9,453.3 370.0,454.1 370.1,454.1 370.2,454.4 370.3,454.7 370.4,455.2 370.5,455.4 370.6,455.4 370.7,454.7 370.8,454.0 371.0,454.3 371.1,454.6 371.2,455.1 371.3,455.4 371.4,457.5 371.5,457.0 371.6,456.1 371.7,456.3 371.8,454.9 371.9,454.9 372.0,455.6 372.1,455.5 372.2,456.3 372.3,456.1 372.4,455.9 372.5,456.0 372.6,454.8 372.7,454.9 372.8,454.4 373.0,454.7 373.1,455.0 373.2,455.6 373.3,455.5 373.4,455.3 373.5,454.5 373.6,454.0 373.7,455.1 373.8,455.1 373.9,454.5 374.0,454.2 374.1,454.9 374.2,455.4 374.3,455.5 374.4,455.0 374.5,455.0 374.6,455.5 374.7,455.2 374.9,454.5 375.0,454.9 375.1,455.2 375.2,454.4 375.3,454.1 375.4,454.1 375.5,454.4 375.6,455.0 375.7,454.8 375.8,454.6 375.9,455.2 376.0,456.3 376.1,455.3 376.2,454.6 376.3,454.6 376.4,455.0 376.5,455.5 376.6,456.7 376.7,457.4 376.9,457.7 377.0,455.5 377.1,453.3 377.2,453.5 377.3,455.2 377.4,454.4 377.5,453.9 377.6,455.4 377.7,456.1 377.8,454.5 377.9,454.9 378.0,454.9 378.1,453.6 378.2,453.9 378.3,453.7 378.4,453.5 378.5,454.9 378.6,455.5 378.8,454.6 378.9,454.5 379.0,454.2 379.1,454.6 379.2,455.3 379.3,455.1 379.4,455.1 379.5,455.1 379.6,454.8 379.7,454.5 379.8,454.9 379.9,455.5 380.0,455.0 380.1,455.1 380.2,453.6 380.3,454.7 380.4,454.6 380.5,453.7 380.6,454.8 380.8,456.0 380.9,456.0 381.0,454.7 381.1,454.0 381.2,453.7 381.3,454.2 381.4,454.6 381.5,453.8 381.6,453.3 381.7,453.6 381.8,451.8 381.9,453.1 382.0,452.7 382.1,451.9 382.2,452.5 382.3,452.9 382.4,452.4 382.5,452.6 382.6,454.3 382.8,452.9 382.9,452.4 383.0,452.1 383.1,450.9 383.2,450.0 383.3,449.4 383.4,449.3 383.5,448.9 383.6,450.8 383.7,451.2 383.8,451.3 383.9,451.2 384.0,451.6 384.1,451.8 384.2,452.4 384.3,451.7 384.4,452.2 384.5,453.9 384.7,455.2 384.8,455.4 384.9,454.9 385.0,453.1 385.1,453.4 385.2,454.3 385.3,453.1 385.4,454.4 385.5,455.7 385.6,453.6 385.7,452.9 385.8,454.1 385.9,454.5 386.0,453.6 386.1,454.2 386.2,454.2 386.3,453.7 386.4,453.8 386.5,454.5 386.7,454.6 386.8,454.1 386.9,455.1 387.0,453.9 387.1,453.0 387.2,452.9 387.3,453.2 387.4,452.6 387.5,452.2 387.6,452.8 387.7,451.9 387.8,451.3 387.9,451.8 388.0,450.6 388.1,448.0 388.2,447.4 388.3,447.8 388.4,446.6 388.6,445.9 388.7,445.3 388.8,446.5 388.9,449.4 389.0,449.0 389.1,447.9 389.2,448.7 389.3,451.1 389.4,452.4 389.5,452.2 389.6,452.7 389.7,453.2 389.8,453.7 389.9,452.8 390.0,452.7 390.1,453.4 390.2,454.9 390.3,455.8 390.4,455.3 390.6,454.6 390.7,455.3 390.8,453.8 390.9,453.0 391.0,454.5 391.1,454.5 391.2,453.6 391.3,453.8 391.4,454.9 391.5,454.9 391.6,454.7 391.7,454.7 391.8,454.3 391.9,454.0 392.0,454.2 392.1,455.4 392.2,454.2 392.3,453.9 392.4,454.6 392.6,454.3 392.7,454.0 392.8,454.5 392.9,454.9 393.0,455.0 393.1,455.7 393.2,456.4 393.3,456.2 393.4,455.7 393.5,454.8 393.6,454.3 393.7,454.2 393.8,453.8 393.9,454.8 394.0,455.7 394.1,456.0 394.2,456.0 394.3,455.1 394.5,454.4 394.6,455.6 394.7,455.0 394.8,454.7 394.9,454.5 395.0,455.0 395.1,454.7 395.2,455.1 395.3,455.2 395.4,456.2 395.5,455.0 395.6,454.8 395.7,455.8 395.8,455.1 395.9,455.4 396.0,454.6 396.1,454.6 396.2,454.4 396.3,454.9 396.5,455.4 396.6,453.9 396.7,454.0 396.8,455.3 396.9,454.8 397.0,454.7 397.1,455.7 397.2,455.7 397.3,454.4 397.4,454.8 397.5,453.9 397.6,453.2 397.7,454.4 397.8,455.3 397.9,454.9 398.0,456.1 398.1,455.3 398.2,453.3 398.4,454.8 398.5,455.3 398.6,455.8 398.7,455.4 398.8,455.6 398.9,457.2 399.0,456.1 399.1,454.5 399.2,454.1 399.3,454.8 399.4,455.6 399.5,455.1 399.6,455.5 399.7,455.8 399.8,454.7 399.9,453.6 400.0,454.9 400.1,454.4 400.2,455.0 400.4,456.4 400.5,456.2 400.6,455.6 400.7,455.4 400.8,455.3 400.9,456.0 401.0,455.8 401.1,454.6 401.2,455.1 401.3,455.7 401.4,454.8 401.5,453.8 401.6,455.4 401.7,456.1 401.8,454.2 401.9,453.0 402.0,454.0 402.1,456.3 402.2,456.7 402.4,454.7 402.5,454.8 402.6,454.8 402.7,454.7 402.8,453.9 402.9,454.7 403.0,455.3 403.1,455.4 403.2,455.9 403.3,455.3 403.4,455.7 403.5,457.1 403.6,456.9 403.7,456.8 403.8,456.6 403.9,455.0 404.0,454.1 404.1,455.0 404.3,456.6 404.4,456.7 404.5,455.1 404.6,455.2 404.7,455.6 404.8,456.7 404.9,456.4 405.0,454.2 405.1,455.1 405.2,455.8 405.3,455.7 405.4,454.4 405.5,455.1 405.6,455.4 405.7,455.2 405.8,454.8 405.9,454.6 406.0,456.0 406.1,455.3 406.3,455.6 406.4,455.8 406.5,455.6 406.6,455.3 406.7,456.2 406.8,455.8 406.9,455.0 407.0,455.6 407.1,455.6 407.2,455.0 407.3,455.1 407.4,455.4 407.5,455.4 407.6,455.6 407.7,455.0 407.8,456.2 407.9,456.5 408.0,455.6 408.2,456.3 408.3,456.2 408.4,455.3 408.5,454.7 408.6,455.4 408.7,455.7 408.8,455.4 408.9,455.0 409.0,455.3 409.1,454.7 409.2,454.0 409.3,455.0 409.4,455.6 409.5,456.0 409.6,456.2 409.7,456.5 409.8,456.3 409.9,455.6 410.0,454.7 410.2,454.6 410.3,455.1 410.4,455.1 410.5,455.3 410.6,453.0 410.7,452.5 410.8,454.1 410.9,454.4 411.0,454.4 411.1,454.3 411.2,455.4 411.3,455.8 411.4,454.7 411.5,455.1 411.6,454.8 411.7,455.3 411.8,455.0 411.9,453.4 412.0,452.8 412.2,454.0 412.3,454.4 412.4,454.1 412.5,454.7 412.6,455.3 412.7,454.8 412.8,455.2 412.9,453.9 413.0,453.6 413.1,453.7 413.2,454.5 413.3,454.0 413.4,452.5 413.5,451.7 413.6,452.0 413.7,452.9 413.8,453.8 413.9,453.1 414.1,453.2 414.2,453.3 414.3,452.8 414.4,453.4 414.5,452.8 414.6,454.0 414.7,454.6 414.8,454.5 414.9,455.2 415.0,454.7 415.1,454.6 415.2,455.6 415.3,455.6 415.4,455.6 415.5,454.6 415.6,453.6 415.7,454.3 415.8,454.5 415.9,454.5 416.1,455.0 416.2,454.5 416.3,454.8 416.4,455.4 416.5,455.9 416.6,454.9 416.7,453.3 416.8,453.1 416.9,454.1 417.0,454.3 417.1,454.7 417.2,455.5 417.3,455.3 417.4,453.5 417.5,454.2 417.6,453.6 417.7,452.8 417.8,453.8 418.0,453.9 418.1,453.6 418.2,453.8 418.3,453.5 418.4,453.4 418.5,452.5 418.6,452.9 418.7,454.3 418.8,454.6 418.9,454.0 419.0,453.7 419.1,453.2 419.2,452.2 419.3,452.8 419.4,452.7 419.5,452.6 419.6,453.2 419.7,451.6 419.8,450.4 420.0,450.1 420.1,451.3 420.2,451.1 420.3,450.2 420.4,450.4 420.5,450.4 420.6,448.7 420.7,448.4 420.8,448.1 420.9,447.9 421.0,446.5 421.1,446.4 421.2,445.9 421.3,444.1 421.4,443.2 421.5,443.4 421.6,441.5 421.7,440.2 421.8,440.7 422.0,441.2 422.1,439.4 422.2,438.7 422.3,439.1 422.4,438.0 422.5,438.7 422.6,439.1 422.7,438.7 422.8,439.3 422.9,439.7 423.0,441.0 423.1,441.9 423.2,442.7 423.3,443.4 423.4,443.8 423.5,444.8 423.6,445.8 423.7,446.0 423.9,446.7 424.0,446.7 424.1,447.5 424.2,448.9 424.3,449.8 424.4,449.5 424.5,448.9 424.6,449.6 424.7,450.0 424.8,450.9 424.9,451.7 425.0,452.7 425.1,453.4 425.2,452.3 425.3,452.1 425.4,452.2 425.5,452.2 425.6,452.8 425.7,452.2 425.9,453.6 426.0,453.6 426.1,454.1 426.2,453.6 426.3,453.0 426.4,454.3 426.5,453.9 426.6,453.5 426.7,453.6 426.8,453.4 426.9,453.1 427.0,453.3 427.1,453.4 427.2,453.2 427.3,453.5 427.4,454.5 427.5,455.0 427.6,454.1 427.8,454.0 427.9,453.4 428.0,454.7 428.1,455.2 428.2,454.2 428.3,455.2 428.4,455.6 428.5,454.5 428.6,455.1 428.7,454.3 428.8,455.0 428.9,454.6 429.0,455.0 429.1,456.1 429.2,455.4 429.3,455.1 429.4,454.7 429.5,454.0 429.6,453.6 429.8,454.7 429.9,454.5 430.0,453.1 430.1,453.6 430.2,454.6 430.3,456.3 430.4,456.6 430.5,455.8 430.6,455.2 430.7,454.0 430.8,453.2 430.9,455.4 431.0,455.5 431.1,454.6 431.2,454.4 431.3,454.3 431.4,455.3 431.5,455.3 431.6,453.7 431.8,454.6 431.9,456.0 432.0,455.8 432.1,455.7 432.2,456.1 432.3,455.0 432.4,455.0 432.5,455.6 432.6,455.4 432.7,454.2 432.8,455.1 432.9,456.4 433.0,457.3 433.1,456.4 433.2,454.6 433.3,454.3 433.4,456.3 433.5,457.2 433.7,455.8 433.8,455.1 433.9,454.9 434.0,455.6 434.1,455.9 434.2,457.1 434.3,456.9 434.4,456.2 434.5,455.7 434.6,454.8 434.7,454.7 434.8,455.7 434.9,454.7 435.0,455.6 435.1,455.6 435.2,455.3 435.3,457.3 435.4,457.4 435.5,456.4 435.7,455.3 435.8,454.3 435.9,454.5 436.0,455.6 436.1,455.2 436.2,455.1 436.3,454.5 436.4,454.9 436.5,455.0 436.6,455.7 436.7,455.5 436.8,456.2 436.9,456.1 437.0,456.7 437.1,456.2 437.2,456.3 437.3,456.3 437.4,455.3 437.6,454.7 437.7,455.1 437.8,455.0 437.9,454.5 438.0,454.1 438.1,454.2 438.2,454.3 438.3,454.0 438.4,455.1 438.5,455.3 438.6,455.5 438.7,454.0 438.8,455.0 438.9,455.0 439.0,454.4 439.1,455.5 439.2,456.7 439.3,457.2 439.4,455.6 439.6,454.0 439.7,454.4 439.8,453.9 439.9,454.5 440.0,456.0 440.1,456.7 440.2,455.9 440.3,455.1 440.4,455.5 440.5,455.3 440.6,455.1 440.7,456.0 440.8,456.8 440.9,456.0 441.0,455.4 441.1,456.3 441.2,456.8 441.3,456.6 441.4,456.0 441.6,455.7 441.7,456.0 441.8,456.5 441.9,456.0 442.0,456.3 442.1,456.9 442.2,457.5 442.3,457.1 442.4,456.3 442.5,455.5 442.6,455.2 442.7,455.4 442.8,455.7 442.9,456.2 443.0,455.1 443.1,454.6 443.2,455.0 443.3,455.8 443.5,455.9 443.6,456.3 443.7,456.8 443.8,456.6 443.9,457.3 444.0,457.2 444.1,455.5 444.2,454.8 444.3,454.9 444.4,455.7 444.5,455.6 444.6,455.3 444.7,456.3 444.8,456.6 444.9,454.1 445.0,453.7 445.1,454.3 445.2,455.4 445.3,456.1 445.5,455.7 445.6,455.7 445.7,456.7 445.8,456.2 445.9,454.9 446.0,454.1 446.1,454.8 446.2,456.1 446.3,456.1 446.4,454.3 446.5,454.7 446.6,454.9 446.7,455.7 446.8,456.0 446.9,454.1 447.0,454.1 447.1,454.7 447.2,455.8 447.4,455.4 447.5,454.6 447.6,455.7 447.7,456.5 447.8,457.0 447.9,456.7 448.0,455.3 448.1,455.9 448.2,456.5 448.3,454.5 448.4,453.9 448.5,454.8 448.6,456.6 448.7,455.6 448.8,454.8 448.9,456.2 449.0,456.5 449.1,456.5 449.2,457.1 449.4,455.7 449.5,454.6 449.6,454.4 449.7,454.2 449.8,455.1 449.9,455.6 450.0,455.9 450.1,456.4 450.2,456.8 450.3,456.4 450.4,456.0 450.5,456.0 450.6,455.6 450.7,455.3 450.8,455.2 450.9,456.4 451.0,457.5 451.1,456.4 451.2,454.2 451.4,454.6 451.5,455.7 451.6,455.9 451.7,455.8 451.8,455.9 451.9,455.4 452.0,454.7 452.1,454.6 452.2,455.6 452.3,456.0 452.4,455.9 452.5,455.4 452.6,455.0 452.7,455.3 452.8,454.0 452.9,454.3 453.0,454.8 453.1,456.1 453.3,456.2 453.4,456.1 453.5,456.2 453.6,457.0 453.7,456.2 453.8,456.6 453.9,455.5 454.0,454.7 454.1,455.4 454.2,455.8 454.3,455.8 454.4,455.7 454.5,455.2 454.6,454.6 454.7,454.4 454.8,454.2 454.9,455.2 455.0,456.0 455.1,456.3 455.3,456.7 455.4,456.3 455.5,455.6 455.6,454.2 455.7,454.1 455.8,454.5 455.9,456.4 456.0,455.5 456.1,454.5 456.2,455.1 456.3,455.7 456.4,455.4 456.5,455.3 456.6,455.3 456.7,455.0 456.8,454.6 456.9,455.0 457.0,455.2 457.2,455.2 457.3,455.3 457.4,455.7 457.5,455.3 457.6,455.3 457.7,455.0 457.8,455.6 457.9,455.7 458.0,455.8 458.1,455.9 458.2,454.8 458.3,454.8 458.4,454.9 458.5,454.5 458.6,455.3 458.7,455.2 458.8,453.9 458.9,453.2 459.0,454.3 459.2,454.1 459.3,455.0 459.4,455.8 459.5,454.9 459.6,454.3 459.7,454.8 459.8,455.3 459.9,456.7 460.0,457.3 460.1,456.2 460.2,456.4 460.3,456.0 460.4,455.9 460.5,455.3 460.6,455.2 460.7,456.6 460.8,456.1 460.9,455.3 461.0,454.5 461.2,455.3 461.3,456.3 461.4,455.7 461.5,454.5 461.6,455.7 461.7,455.6 461.8,455.6 461.9,456.5 462.0,456.9 462.1,457.4 462.2,456.5 462.3,455.2 462.4,455.6 462.5,456.5 462.6,455.2 462.7,456.3 462.8,456.1 462.9,454.4 463.1,454.7 463.2,455.0 463.3,454.3 463.4,455.0 463.5,455.3 463.6,455.8 463.7,455.7 463.8,455.2 463.9,454.8 464.0,455.6 464.1,456.3 464.2,457.5 464.3,457.1 464.4,455.4 464.5,455.6 464.6,455.6 464.7,455.1 464.8,455.4 464.9,455.4 465.1,456.1 465.2,456.8 465.3,455.0 465.4,453.7 465.5,454.0 465.6,454.9 465.7,455.0 465.8,454.5 465.9,453.7 466.0,454.0 466.1,455.2 466.2,455.5 466.3,455.6 466.4,455.9 466.5,455.9 466.6,456.1 466.7,456.9 466.8,455.7 466.9,455.7 467.1,456.2 467.2,455.8 467.3,455.4 467.4,454.7 467.5,455.6 467.6,455.2 467.7,455.0 467.8,455.9 467.9,456.0 468.0,455.1 468.1,455.4 468.2,456.1 468.3,456.0 468.4,454.4 468.5,453.7 468.6,454.6 468.7,454.2 468.8,453.5 469.0,453.7 469.1,454.6 469.2,454.1 469.3,453.2 469.4,452.3 469.5,453.3 469.6,453.2 469.7,453.2 469.8,453.7 469.9,454.6 470.0,453.6 470.1,452.8 470.2,453.6 470.3,453.8 470.4,454.1 470.5,453.4 470.6,452.9 470.7,452.8 470.8,453.4 471.0,453.6 471.1,453.3 471.2,452.6 471.3,451.7 471.4,450.8 471.5,451.9 471.6,451.7 471.7,452.1 471.8,451.7 471.9,450.4 472.0,450.2 472.1,450.5 472.2,450.5 472.3,447.9 472.4,447.6 472.5,449.5 472.6,450.1 472.7,449.0 472.9,448.0 473.0,447.7 473.1,446.8 473.2,445.7 473.3,443.6 473.4,444.3 473.5,443.9 473.6,442.0 473.7,442.0 473.8,442.1 473.9,441.5 474.0,440.8 474.1,440.9 474.2,440.6 474.3,441.0 474.4,441.5 474.5,440.9 474.6,440.2 474.7,439.7 474.9,440.9 475.0,442.1 475.1,442.4 475.2,443.3 475.3,445.4 475.4,445.9 475.5,447.3 475.6,447.8 475.7,447.4 475.8,447.2 475.9,447.5 476.0,447.6 476.1,447.4 476.2,448.2 476.3,449.1 476.4,449.4 476.5,448.5 476.6,449.2 476.7,451.1 476.9,451.5 477.0,450.7 477.1,450.8 477.2,451.5 477.3,451.6 477.4,452.9 477.5,452.6 477.6,452.0 477.7,452.9 477.8,452.9 477.9,453.1 478.0,453.8 478.1,454.8 478.2,454.1 478.3,453.4 478.4,453.2 478.5,452.8 478.6,453.0 478.8,453.9 478.9,453.7 479.0,452.6 479.1,453.0 479.2,453.9 479.3,454.0 479.4,453.2 479.5,453.2 479.6,454.0 479.7,454.0 479.8,454.3 479.9,454.0 480.0,453.4 480.1,454.8 480.2,454.6 480.3,455.3 480.4,455.2 480.5,454.5 480.6,455.7 480.8,456.0 480.9,456.0 481.0,455.4 481.1,454.4 481.2,454.0 481.3,454.7 481.4,454.6 481.5,454.9 481.6,453.7 481.7,454.8 481.8,455.3 481.9,454.8 482.0,454.8 482.1,455.5 482.2,456.0 482.3,454.6 482.4,454.3 482.5,455.4 482.7,455.9 482.8,454.8 482.9,454.5 483.0,456.2 483.1,456.2 483.2,455.4 483.3,455.6 483.4,455.4 483.5,454.8 483.6,454.1 483.7,453.8 483.8,453.6 483.9,454.0 484.0,455.5 484.1,456.5 484.2,454.8 484.3,454.0 484.4,454.2 484.5,454.2 484.7,453.5 484.8,454.7 484.9,453.8 485.0,453.1 485.1,452.8 485.2,452.5 485.3,453.0 485.4,453.5 485.5,453.7 485.6,453.2 485.7,453.1 485.8,453.5 485.9,455.0 486.0,455.4 486.1,454.3 486.2,454.1 486.3,455.5 486.4,455.5 486.5,454.8 486.7,454.2 486.8,453.9 486.9,453.8 487.0,454.3 487.1,454.0 487.2,453.7 487.3,454.0 487.4,453.2 487.5,454.4 487.6,455.2 487.7,456.1 487.8,455.4 487.9,455.3 488.0,455.3 488.1,455.0 488.2,455.4 488.3,455.3 488.4,456.2 488.6,455.2 488.7,453.7 488.8,454.0 488.9,454.3 489.0,455.4 489.1,455.3 489.2,453.5 489.3,453.1 489.4,453.4 489.5,453.8 489.6,453.5 489.7,454.0 489.8,453.5 489.9,453.6 490.0,454.0 490.1,453.0 490.2,453.0 490.3,453.4 490.4,454.7 490.6,454.8 490.7,453.7 490.8,452.6 490.9,451.9 491.0,452.3 491.1,452.6 491.2,452.3 491.3,452.5 491.4,452.3 491.5,452.2 491.6,452.6 491.7,452.4 491.8,453.3 491.9,452.9 492.0,452.0 492.1,452.3 492.2,451.9 492.3,452.0 492.5,452.0 492.6,451.2 492.7,451.9 492.8,453.1 492.9,453.3 493.0,453.3 493.1,453.8 493.2,452.7 493.3,453.5 493.4,455.0 493.5,454.4 493.6,452.9 493.7,452.7 493.8,452.3 493.9,453.3 494.0,453.3 494.1,452.1 494.2,452.5 494.3,454.3 494.5,454.3 494.6,455.2 494.7,455.7 494.8,456.0 494.9,455.0 495.0,455.6 495.1,455.2 495.2,453.5 495.3,453.9 495.4,455.4 495.5,456.4 495.6,455.9 495.7,457.0 495.8,456.3 495.9,454.8 496.0,454.4 496.1,454.8 496.2,454.6 496.3,455.2 496.5,455.9 496.6,455.1 496.7,454.1 496.8,454.9 496.9,455.1 497.0,455.3 497.1,456.6 497.2,457.0 497.3,456.9 497.4,455.8 497.5,456.1 497.6,456.9 497.7,456.7 497.8,455.2 497.9,454.7 498.0,455.1 498.1,455.4 498.2,455.3 498.4,455.4 498.5,455.5 498.6,456.2 498.7,456.8 498.8,456.5 498.9,455.3 499.0,454.7 499.1,456.2 499.2,456.6 499.3,455.3 499.4,455.2 499.5,456.3 499.6,456.6 499.7,456.3 499.8,455.0 499.9,453.7 500.0,455.5 500.1,456.0 500.2,456.1 500.4,455.8 500.5,455.5 500.6,455.8 500.7,456.6"/>
<text transform="translate(323.1,325.2) rotate(-90)" font-size="9.5" font-weight="normal" fill="#1a1a1a" letter-spacing="0.65">(111)</text>
<polygon points="320.00,288.00 321.38,291.70 325.33,291.87 322.24,294.33 323.29,298.13 320.00,295.95 316.71,298.13 317.76,294.33 314.67,291.87 318.62,291.70" fill="#000"/><polygon points="320.00,291.10 320.82,292.77 322.66,293.03 321.33,294.33 321.65,296.17 320.00,295.30 318.35,296.17 318.67,294.33 317.34,293.03 319.18,292.77" fill="#ff1a1a"/>
<text transform="translate(345.7,401.0) rotate(-90)" font-size="9.5" font-weight="normal" fill="#1a1a1a" letter-spacing="0.60">(200)</text>
<polygon points="343.50,366.20 344.88,369.90 348.83,370.07 345.74,372.53 346.79,376.33 343.50,374.15 340.21,376.33 341.26,372.53 338.17,370.07 342.12,369.90" fill="#000"/><polygon points="343.50,369.30 344.32,370.97 346.16,371.23 344.83,372.53 345.15,374.37 343.50,373.50 341.85,374.37 342.17,372.53 340.84,371.23 342.68,370.97" fill="#ff1a1a"/>
<text transform="translate(335.9,434.0) rotate(-90)" font-size="9.5" font-weight="normal" fill="#1a1a1a" letter-spacing="0.45">(024)</text>
<text transform="translate(358.3,427.3) rotate(-90)" font-size="9.5" font-weight="normal" fill="#1a1a1a" letter-spacing="0.45">(116)</text>
<text transform="translate(380.3,437.5) rotate(-90)" font-size="9.5" font-weight="normal" fill="#1a1a1a" letter-spacing="0.45">(214)</text>
<text transform="translate(393.6,437.5) rotate(-90)" font-size="9.5" font-weight="normal" fill="#1a1a1a" letter-spacing="0.45">(300)</text>
<text transform="translate(423.5,431.0) rotate(-90)" font-size="9.5" font-weight="normal" fill="#1a1a1a" letter-spacing="0.60">(220)</text>
<polygon points="421.50,394.90 422.88,398.60 426.83,398.77 423.74,401.23 424.79,405.03 421.50,402.85 418.21,405.03 419.26,401.23 416.17,398.77 420.12,398.60" fill="#000"/><polygon points="421.50,398.00 422.32,399.67 424.16,399.93 422.83,401.23 423.15,403.07 421.50,402.20 419.85,403.07 420.17,401.23 418.84,399.93 420.68,399.67" fill="#ff1a1a"/>
<text transform="translate(475.5,431.5) rotate(-90)" font-size="9.5" font-weight="normal" fill="#1a1a1a" letter-spacing="0.60">(311)</text>
<polygon points="473.50,395.90 474.88,399.60 478.83,399.77 475.74,402.23 476.79,406.03 473.50,403.85 470.21,406.03 471.26,402.23 468.17,399.77 472.12,399.60" fill="#000"/><polygon points="473.50,399.00 474.32,400.67 476.16,400.93 474.83,402.23 475.15,404.07 473.50,403.20 471.85,404.07 472.17,402.23 470.84,400.93 472.68,400.67" fill="#ff1a1a"/>
<text transform="translate(493.5,443.0) rotate(-90)" font-size="9.5" font-weight="normal" fill="#1a1a1a" letter-spacing="0.60">(222)</text>
<polygon points="491.30,407.20 492.68,410.90 496.63,411.07 493.54,413.53 494.59,417.33 491.30,415.15 488.01,417.33 489.06,413.53 485.97,411.07 489.92,410.90" fill="#000"/><polygon points="491.30,410.30 492.12,411.97 493.96,412.23 492.63,413.53 492.95,415.37 491.30,414.50 489.65,415.37 489.97,413.53 488.64,412.23 490.48,411.97" fill="#ff1a1a"/>
<text transform="translate(253.9,428.9) rotate(-90)" font-size="10.6" font-weight="bold" fill="#000" letter-spacing="0.45">(012)</text>
<text transform="translate(266.1,403.6) rotate(-90)" font-size="10.6" font-weight="bold" fill="#000" letter-spacing="0.30">(002)</text>
<text x="262.5" y="416.7" font-size="11.2" font-weight="bold" fill="#111" text-anchor="middle" >C</text>
<line x1="262.3" y1="418.6" x2="262.3" y2="436.0" stroke="#222" stroke-width="0.8"/><polygon points="260.7,434.2 263.9,434.2 262.3,438.0" fill="#111"/>
<text transform="translate(282.6,421.4) rotate(-90)" font-size="9.3" font-weight="normal" fill="#1a1a1a" letter-spacing="0.40">(104)</text>
<text transform="translate(294.3,421.4) rotate(-90)" font-size="9.3" font-weight="normal" fill="#1a1a1a" letter-spacing="0.40">(110)</text>
<text transform="translate(307.5,404.5) rotate(-90)" font-size="9.5" font-weight="normal" fill="#3a3af0" letter-spacing="0.80">(111)</text>
<text x="306.0" y="416.6" font-size="11.2" font-weight="bold" fill="#1a1aee" text-anchor="middle" >Pt</text>
<line x1="305.8" y1="418.0" x2="305.8" y2="442.5" stroke="#222" stroke-width="0.8"/><polygon points="304.2,440.7 307.4,440.7 305.8,444.5" fill="#111"/>
<path d="M257.60 434.00 L257.60 432.40 M257.60 434.00 L259.12 433.51 M257.60 434.00 L258.54 435.29 M257.60 434.00 L256.66 435.29 M257.60 434.00 L256.08 433.51" stroke="#1a1a1a" stroke-width="0.8" fill="none"/>
<path d="M287.00 426.30 L287.00 424.70 M287.00 426.30 L288.52 425.81 M287.00 426.30 L287.94 427.59 M287.00 426.30 L286.06 427.59 M287.00 426.30 L285.48 425.81" stroke="#1a1a1a" stroke-width="0.8" fill="none"/>
<path d="M295.00 426.00 L295.00 424.40 M295.00 426.00 L296.52 425.51 M295.00 426.00 L295.94 427.29 M295.00 426.00 L294.06 427.29 M295.00 426.00 L293.48 425.51" stroke="#1a1a1a" stroke-width="0.8" fill="none"/>
<path d="M311.30 435.80 L311.30 434.20 M311.30 435.80 L312.82 435.31 M311.30 435.80 L312.24 437.09 M311.30 435.80 L310.36 437.09 M311.30 435.80 L309.78 435.31" stroke="#1a1a1a" stroke-width="0.8" fill="none"/>
<path d="M338.90 437.80 L338.90 436.20 M338.90 437.80 L340.42 437.31 M338.90 437.80 L339.84 439.09 M338.90 437.80 L337.96 439.09 M338.90 437.80 L337.38 437.31" stroke="#1a1a1a" stroke-width="0.8" fill="none"/>
<path d="M355.40 432.00 L355.40 430.40 M355.40 432.00 L356.92 431.51 M355.40 432.00 L356.34 433.29 M355.40 432.00 L354.46 433.29 M355.40 432.00 L353.88 431.51" stroke="#1a1a1a" stroke-width="0.8" fill="none"/>
<path d="M381.60 442.50 L381.60 440.90 M381.60 442.50 L383.12 442.01 M381.60 442.50 L382.54 443.79 M381.60 442.50 L380.66 443.79 M381.60 442.50 L380.08 442.01" stroke="#1a1a1a" stroke-width="0.8" fill="none"/>
<path d="M388.60 441.80 L388.60 440.20 M388.60 441.80 L390.12 441.31 M388.60 441.80 L389.54 443.09 M388.60 441.80 L387.66 443.09 M388.60 441.80 L387.08 441.31" stroke="#1a1a1a" stroke-width="0.8" fill="none"/>
<rect x="376.4" y="279.6" width="126.2" height="16.8" fill="#fff" stroke="#505050" stroke-width="0.75"/>
<rect x="377.9" y="281.1" width="26.0" height="12.8" fill="#fff" stroke="#e24545" stroke-width="0.85"/>
<line x1="377.9" y1="287.5" x2="403.9" y2="287.5" stroke="#e03030" stroke-width="0.9"/>
<text x="406.8" y="291.2" font-size="11.4" font-weight="bold" fill="#111" letter-spacing="0.20">Ni<tspan font-size="7.0" dy="3.8">11</tspan><tspan dy="-3.8">Pt</tspan><tspan font-size="7.0" dy="3.8">3</tspan><tspan dy="-3.8">Cr</tspan><tspan font-size="6.6" dy="3.8">6%</tspan><tspan dy="-3.8"> /CNFs</tspan></text>
<text x="431.7" y="312.8" font-size="13.8" font-weight="bold" fill="#111" text-anchor="middle" >(C)</text>
<rect x="456" y="318.3" width="57.6" height="40.4" fill="#fff" stroke="#79c3ee" stroke-width="0.9"/>
<polygon points="467.30,324.48 468.74,328.32 472.84,328.50 469.63,331.06 470.72,335.01 467.30,332.75 463.88,335.01 464.97,331.06 461.76,328.50 465.86,328.32" fill="#000"/><polygon points="467.30,327.69 468.16,329.42 470.07,329.70 468.68,331.05 469.01,332.96 467.30,332.06 465.59,332.96 465.92,331.05 464.53,329.70 466.44,329.42" fill="#ff1a1a"/>
<text x="477.8" y="333.3" font-size="12.0" font-weight="bold" fill="#111" text-anchor="start" >Ni</text>
<path d="M467.30 344.50 L467.30 342.10 M467.30 344.50 L469.58 343.76 M467.30 344.50 L468.71 346.44 M467.30 344.50 L465.89 346.44 M467.30 344.50 L465.02 343.76" stroke="#1a1a1a" stroke-width="0.8" fill="none"/>
<text x="475.8" y="347.3" font-size="12.0" font-weight="bold" fill="#111">Cr<tspan font-size="7.2" dy="3.8">2</tspan><tspan dy="-3.8">O</tspan><tspan font-size="7.2" dy="3.8">3</tspan></text>
<text transform="translate(181.8,379.0) rotate(-90) scale(1.087,1.200)" font-size="15.5" font-weight="bold" fill="#111" stroke="#111" stroke-width="0.3" text-anchor="middle">Count</text>
<text x="361.64" y="523.10" font-size="16.8" font-weight="bold" fill="#111">2</text><text transform="translate(371.47,523.10) scale(1.32,1)" font-family="Liberation Serif, serif" font-size="15.1" fill="#111" stroke="#111" stroke-width="0.2">&#952;</text><text x="379.87" y="512.85" font-size="8.2" font-weight="bold" fill="#111">o</text>
</svg>
</body></html>
